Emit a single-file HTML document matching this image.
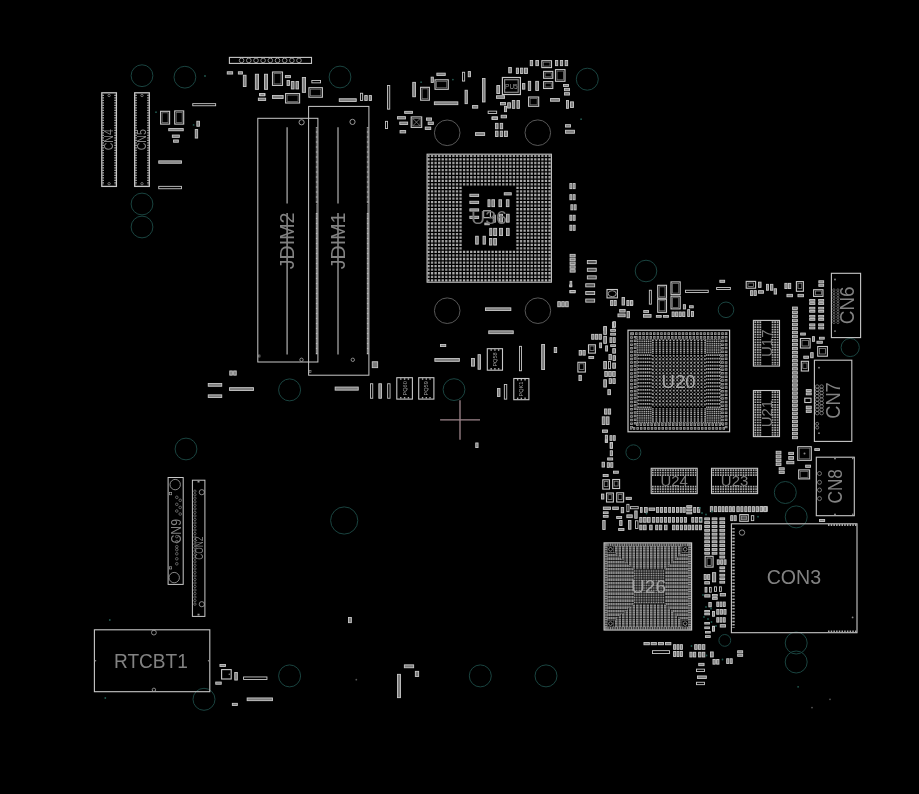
<!DOCTYPE html>
<html><head><meta charset="utf-8"><title>Board</title>
<style>
html,body{margin:0;padding:0;background:#000;overflow:hidden}
svg{display:block;font-family:"Liberation Sans",sans-serif}
text{filter:grayscale(1)}
</style></head><body>
<svg width="919" height="794" viewBox="0 0 919 794">
<rect x="0" y="0" width="919" height="794" fill="#000"/>
<circle cx="142.00" cy="75.70" r="10.90" fill="none" stroke="#1a4440" stroke-width="1"/>
<circle cx="184.90" cy="77.20" r="10.90" fill="none" stroke="#1a4440" stroke-width="1"/>
<circle cx="340.00" cy="77.00" r="10.90" fill="none" stroke="#1a4440" stroke-width="1"/>
<circle cx="587.30" cy="79.20" r="11.00" fill="none" stroke="#1a4440" stroke-width="1"/>
<circle cx="142.00" cy="204.00" r="10.90" fill="none" stroke="#1a4440" stroke-width="1"/>
<circle cx="142.00" cy="227.00" r="10.90" fill="none" stroke="#1a4440" stroke-width="1"/>
<circle cx="289.60" cy="389.90" r="11.00" fill="none" stroke="#1a4440" stroke-width="1"/>
<circle cx="454.00" cy="389.60" r="10.90" fill="none" stroke="#1a4440" stroke-width="1"/>
<circle cx="186.00" cy="449.00" r="10.90" fill="none" stroke="#1a4440" stroke-width="1"/>
<circle cx="344.20" cy="520.50" r="13.60" fill="none" stroke="#1a4440" stroke-width="1"/>
<circle cx="646.00" cy="271.00" r="10.80" fill="none" stroke="#1a4440" stroke-width="1"/>
<circle cx="726.00" cy="309.80" r="7.80" fill="none" stroke="#1a4440" stroke-width="1"/>
<circle cx="850.20" cy="347.50" r="9.10" fill="none" stroke="#1a4440" stroke-width="1"/>
<circle cx="633.40" cy="452.30" r="7.50" fill="none" stroke="#1a4440" stroke-width="1"/>
<circle cx="785.30" cy="492.50" r="11.00" fill="none" stroke="#1a4440" stroke-width="1"/>
<circle cx="796.20" cy="516.90" r="11.00" fill="none" stroke="#1a4440" stroke-width="1"/>
<circle cx="796.20" cy="643.00" r="11.00" fill="none" stroke="#1a4440" stroke-width="1"/>
<circle cx="796.20" cy="662.00" r="11.00" fill="none" stroke="#1a4440" stroke-width="1"/>
<circle cx="724.80" cy="640.40" r="5.90" fill="none" stroke="#1a4440" stroke-width="1"/>
<circle cx="204.00" cy="699.30" r="11.00" fill="none" stroke="#1a4440" stroke-width="1"/>
<circle cx="289.60" cy="675.90" r="11.00" fill="none" stroke="#1a4440" stroke-width="1"/>
<circle cx="480.30" cy="675.90" r="11.00" fill="none" stroke="#1a4440" stroke-width="1"/>
<circle cx="546.00" cy="675.90" r="11.00" fill="none" stroke="#1a4440" stroke-width="1"/>
<circle cx="156.00" cy="112.20" r="0.90" fill="#215a50" stroke="none" stroke-width="1"/>
<circle cx="193.60" cy="124.90" r="0.90" fill="#215a50" stroke="none" stroke-width="1"/>
<circle cx="421.10" cy="82.20" r="0.90" fill="#215a50" stroke="none" stroke-width="1"/>
<circle cx="452.90" cy="79.60" r="0.90" fill="#215a50" stroke="none" stroke-width="1"/>
<circle cx="581.10" cy="119.20" r="0.90" fill="#215a50" stroke="none" stroke-width="1"/>
<circle cx="758.00" cy="516.70" r="0.90" fill="#215a50" stroke="none" stroke-width="1"/>
<circle cx="105.30" cy="698.00" r="0.90" fill="#215a50" stroke="none" stroke-width="1"/>
<circle cx="109.80" cy="620.00" r="0.90" fill="#215a50" stroke="none" stroke-width="1"/>
<circle cx="205.00" cy="76.00" r="0.90" fill="#215a50" stroke="none" stroke-width="1"/>
<circle cx="798.10" cy="686.80" r="0.90" fill="#215a50" stroke="none" stroke-width="1"/>
<circle cx="830.00" cy="699.30" r="0.90" fill="#555" stroke="none" stroke-width="1"/>
<circle cx="812.00" cy="707.60" r="0.90" fill="#555" stroke="none" stroke-width="1"/>
<circle cx="356.30" cy="679.70" r="0.90" fill="#555" stroke="none" stroke-width="1"/>
<circle cx="447.20" cy="132.80" r="12.80" fill="none" stroke="#575757" stroke-width="1"/>
<circle cx="537.80" cy="132.70" r="12.80" fill="none" stroke="#575757" stroke-width="1"/>
<circle cx="447.20" cy="310.70" r="12.80" fill="none" stroke="#575757" stroke-width="1"/>
<circle cx="537.90" cy="310.70" r="12.80" fill="none" stroke="#575757" stroke-width="1"/>
<line x1="440.10" y1="419.80" x2="480.00" y2="419.80" stroke="#9e868c" stroke-width="1.3"/>
<line x1="460.00" y1="400.20" x2="460.00" y2="439.70" stroke="#9e868c" stroke-width="1.3"/>
<rect x="101.80" y="92.80" width="14.60" height="93.60" fill="none" stroke="#c8c8c8" stroke-width="1.3"/>
<line x1="103.10" y1="94.70" x2="103.10" y2="185.00" stroke="#b8b8b8" stroke-width="1.5" stroke-dasharray="1.3 1.2"/>
<line x1="115.10" y1="94.70" x2="115.10" y2="185.00" stroke="#b8b8b8" stroke-width="1.5" stroke-dasharray="1.3 1.2"/>
<circle cx="109.10" cy="95.50" r="1.20" fill="none" stroke="#999" stroke-width="0.7"/>
<circle cx="109.10" cy="183.70" r="1.20" fill="none" stroke="#999" stroke-width="0.7"/>
<text x="108.60" y="139.70" font-size="12.7" fill="#828282" text-anchor="middle" dominant-baseline="central" textLength="21.2" lengthAdjust="spacingAndGlyphs" transform="rotate(-90 108.60 139.70)">CN4</text>
<rect x="134.70" y="92.80" width="14.60" height="93.60" fill="none" stroke="#c8c8c8" stroke-width="1.3"/>
<line x1="136.00" y1="94.70" x2="136.00" y2="185.00" stroke="#b8b8b8" stroke-width="1.5" stroke-dasharray="1.3 1.2"/>
<line x1="148.00" y1="94.70" x2="148.00" y2="185.00" stroke="#b8b8b8" stroke-width="1.5" stroke-dasharray="1.3 1.2"/>
<circle cx="142.00" cy="95.50" r="1.20" fill="none" stroke="#999" stroke-width="0.7"/>
<circle cx="142.00" cy="183.70" r="1.20" fill="none" stroke="#999" stroke-width="0.7"/>
<text x="141.60" y="139.70" font-size="12.7" fill="#828282" text-anchor="middle" dominant-baseline="central" textLength="21.2" lengthAdjust="spacingAndGlyphs" transform="rotate(-90 141.60 139.70)">CN5</text>
<rect x="257.80" y="118.30" width="60.10" height="243.70" fill="none" stroke="#c8c8c8" stroke-width="1"/>
<rect x="308.60" y="106.40" width="60.30" height="268.80" fill="none" stroke="#c8c8c8" stroke-width="1"/>
<circle cx="301.60" cy="122.30" r="2.60" fill="none" stroke="#aaa" stroke-width="0.9"/>
<circle cx="301.50" cy="359.80" r="1.70" fill="none" stroke="#aaa" stroke-width="0.8"/>
<circle cx="352.50" cy="121.90" r="2.60" fill="none" stroke="#aaa" stroke-width="0.9"/>
<circle cx="352.80" cy="359.80" r="1.70" fill="none" stroke="#aaa" stroke-width="0.8"/>
<line x1="287.10" y1="127.20" x2="287.10" y2="203.50" stroke="#a4a4a4" stroke-width="1.3"/>
<line x1="287.10" y1="213.00" x2="287.10" y2="354.50" stroke="#a4a4a4" stroke-width="1.3"/>
<line x1="316.70" y1="127.20" x2="316.70" y2="203.50" stroke="#bcbcbc" stroke-width="1.8" stroke-dasharray="0.9 0.35"/>
<line x1="316.70" y1="213.00" x2="316.70" y2="354.50" stroke="#bcbcbc" stroke-width="1.8" stroke-dasharray="0.9 0.35"/>
<line x1="338.00" y1="127.20" x2="338.00" y2="203.50" stroke="#a4a4a4" stroke-width="1.3"/>
<line x1="338.00" y1="213.00" x2="338.00" y2="354.50" stroke="#a4a4a4" stroke-width="1.3"/>
<line x1="367.70" y1="127.20" x2="367.70" y2="203.50" stroke="#bcbcbc" stroke-width="1.8" stroke-dasharray="0.9 0.35"/>
<line x1="367.70" y1="213.00" x2="367.70" y2="354.50" stroke="#bcbcbc" stroke-width="1.8" stroke-dasharray="0.9 0.35"/>
<line x1="316.70" y1="203.50" x2="316.70" y2="213.00" stroke="#888" stroke-width="0.8"/>
<line x1="367.70" y1="203.50" x2="367.70" y2="213.00" stroke="#888" stroke-width="0.8"/>
<text x="286.70" y="240.90" font-size="21" fill="#828282" text-anchor="middle" dominant-baseline="central" textLength="56.6" lengthAdjust="spacingAndGlyphs" transform="rotate(-90 286.70 240.90)">JDIM2</text>
<text x="337.60" y="240.90" font-size="21" fill="#828282" text-anchor="middle" dominant-baseline="central" textLength="56.6" lengthAdjust="spacingAndGlyphs" transform="rotate(-90 337.60 240.90)">JDIM1</text>
<rect x="258.30" y="355.00" width="1.70" height="2.00" fill="none" stroke="#999" stroke-width="0.6"/>
<rect x="309.20" y="370.50" width="1.80" height="2.00" fill="none" stroke="#999" stroke-width="0.6"/>
<rect x="94.40" y="629.80" width="115.40" height="61.90" fill="none" stroke="#c8c8c8" stroke-width="1.1"/>
<text x="150.90" y="660.50" font-size="19.5" fill="#828282" text-anchor="middle" dominant-baseline="central" textLength="73.9" lengthAdjust="spacingAndGlyphs">RTCBT1</text>
<circle cx="153.90" cy="632.60" r="2.40" fill="none" stroke="#aaa" stroke-width="0.8"/>
<circle cx="153.90" cy="689.80" r="1.70" fill="none" stroke="#aaa" stroke-width="0.8"/>
<circle cx="95.50" cy="660.80" r="0.80" fill="#888" stroke="none" stroke-width="1"/>
<circle cx="208.60" cy="660.80" r="0.80" fill="#888" stroke="none" stroke-width="1"/>
<rect x="731.40" y="523.80" width="125.60" height="108.90" fill="none" stroke="#c8c8c8" stroke-width="1.1"/>
<text x="793.90" y="577.40" font-size="20" fill="#828282" text-anchor="middle" dominant-baseline="central" textLength="54.4" lengthAdjust="spacingAndGlyphs">CON3</text>
<circle cx="742.00" cy="532.60" r="2.70" fill="none" stroke="#aaa" stroke-width="0.8"/>
<line x1="733.50" y1="528.00" x2="733.50" y2="628.00" stroke="#aaa" stroke-width="2.4" stroke-dasharray="1.6 1.6"/>
<line x1="828.00" y1="525.00" x2="856.60" y2="525.00" stroke="#aaa" stroke-width="2.2" stroke-dasharray="1.5 1.2"/>
<line x1="828.00" y1="631.50" x2="856.60" y2="631.50" stroke="#aaa" stroke-width="2.2" stroke-dasharray="1.5 1.2"/>
<circle cx="852.60" cy="617.40" r="0.90" fill="#888" stroke="none" stroke-width="1"/>
<rect x="831.40" y="273.30" width="29.20" height="64.30" fill="none" stroke="#c8c8c8" stroke-width="1.1"/>
<text x="846.80" y="305.30" font-size="20" fill="#828282" text-anchor="middle" dominant-baseline="central" textLength="37.8" lengthAdjust="spacingAndGlyphs" transform="rotate(-90 846.80 305.30)">CN6</text>
<circle cx="833.90" cy="290.00" r="1.20" fill="none" stroke="#8a8a8a" stroke-width="0.6"/>
<circle cx="837.90" cy="290.00" r="1.20" fill="none" stroke="#8a8a8a" stroke-width="0.6"/>
<circle cx="833.90" cy="292.70" r="1.20" fill="none" stroke="#8a8a8a" stroke-width="0.6"/>
<circle cx="837.90" cy="292.70" r="1.20" fill="none" stroke="#8a8a8a" stroke-width="0.6"/>
<circle cx="833.90" cy="295.40" r="1.20" fill="none" stroke="#8a8a8a" stroke-width="0.6"/>
<circle cx="837.90" cy="295.40" r="1.20" fill="none" stroke="#8a8a8a" stroke-width="0.6"/>
<circle cx="833.90" cy="298.10" r="1.20" fill="none" stroke="#8a8a8a" stroke-width="0.6"/>
<circle cx="837.90" cy="298.10" r="1.20" fill="none" stroke="#8a8a8a" stroke-width="0.6"/>
<circle cx="833.90" cy="300.80" r="1.20" fill="none" stroke="#8a8a8a" stroke-width="0.6"/>
<circle cx="837.90" cy="300.80" r="1.20" fill="none" stroke="#8a8a8a" stroke-width="0.6"/>
<circle cx="833.90" cy="303.50" r="1.20" fill="none" stroke="#8a8a8a" stroke-width="0.6"/>
<circle cx="837.90" cy="303.50" r="1.20" fill="none" stroke="#8a8a8a" stroke-width="0.6"/>
<circle cx="833.90" cy="306.20" r="1.20" fill="none" stroke="#8a8a8a" stroke-width="0.6"/>
<circle cx="837.90" cy="306.20" r="1.20" fill="none" stroke="#8a8a8a" stroke-width="0.6"/>
<circle cx="833.90" cy="308.90" r="1.20" fill="none" stroke="#8a8a8a" stroke-width="0.6"/>
<circle cx="837.90" cy="308.90" r="1.20" fill="none" stroke="#8a8a8a" stroke-width="0.6"/>
<circle cx="833.90" cy="311.60" r="1.20" fill="none" stroke="#8a8a8a" stroke-width="0.6"/>
<circle cx="837.90" cy="311.60" r="1.20" fill="none" stroke="#8a8a8a" stroke-width="0.6"/>
<circle cx="833.90" cy="314.30" r="1.20" fill="none" stroke="#8a8a8a" stroke-width="0.6"/>
<circle cx="837.90" cy="314.30" r="1.20" fill="none" stroke="#8a8a8a" stroke-width="0.6"/>
<circle cx="833.90" cy="317.00" r="1.20" fill="none" stroke="#8a8a8a" stroke-width="0.6"/>
<circle cx="837.90" cy="317.00" r="1.20" fill="none" stroke="#8a8a8a" stroke-width="0.6"/>
<circle cx="833.90" cy="319.70" r="1.20" fill="none" stroke="#8a8a8a" stroke-width="0.6"/>
<circle cx="837.90" cy="319.70" r="1.20" fill="none" stroke="#8a8a8a" stroke-width="0.6"/>
<circle cx="833.90" cy="322.40" r="1.20" fill="none" stroke="#8a8a8a" stroke-width="0.6"/>
<circle cx="837.90" cy="322.40" r="1.20" fill="none" stroke="#8a8a8a" stroke-width="0.6"/>
<circle cx="835.00" cy="279.50" r="0.90" fill="#888" stroke="none" stroke-width="1"/>
<circle cx="835.00" cy="331.10" r="0.90" fill="#888" stroke="none" stroke-width="1"/>
<rect x="814.40" y="360.20" width="37.40" height="81.20" fill="none" stroke="#c8c8c8" stroke-width="1.1"/>
<text x="832.90" y="400.50" font-size="19.5" fill="#828282" text-anchor="middle" dominant-baseline="central" textLength="36.5" lengthAdjust="spacingAndGlyphs" transform="rotate(-90 832.90 400.50)">CN7</text>
<circle cx="817.20" cy="386.60" r="1.80" fill="none" stroke="#9a9a9a" stroke-width="0.7"/>
<circle cx="821.60" cy="386.60" r="1.80" fill="none" stroke="#9a9a9a" stroke-width="0.7"/>
<circle cx="821.60" cy="389.80" r="1.80" fill="none" stroke="#9a9a9a" stroke-width="0.7"/>
<circle cx="817.20" cy="389.80" r="1.80" fill="none" stroke="#9a9a9a" stroke-width="0.7"/>
<circle cx="817.20" cy="392.90" r="1.80" fill="none" stroke="#9a9a9a" stroke-width="0.7"/>
<circle cx="821.60" cy="392.90" r="1.80" fill="none" stroke="#9a9a9a" stroke-width="0.7"/>
<circle cx="821.60" cy="396.10" r="1.80" fill="none" stroke="#9a9a9a" stroke-width="0.7"/>
<circle cx="817.20" cy="396.10" r="1.80" fill="none" stroke="#9a9a9a" stroke-width="0.7"/>
<circle cx="817.20" cy="399.60" r="1.80" fill="none" stroke="#9a9a9a" stroke-width="0.7"/>
<circle cx="821.60" cy="399.60" r="1.80" fill="none" stroke="#9a9a9a" stroke-width="0.7"/>
<circle cx="821.60" cy="403.00" r="1.80" fill="none" stroke="#9a9a9a" stroke-width="0.7"/>
<circle cx="817.20" cy="403.00" r="1.80" fill="none" stroke="#9a9a9a" stroke-width="0.7"/>
<circle cx="817.20" cy="406.40" r="1.80" fill="none" stroke="#9a9a9a" stroke-width="0.7"/>
<circle cx="821.60" cy="406.40" r="1.80" fill="none" stroke="#9a9a9a" stroke-width="0.7"/>
<circle cx="821.60" cy="409.70" r="1.80" fill="none" stroke="#9a9a9a" stroke-width="0.7"/>
<circle cx="817.20" cy="409.70" r="1.80" fill="none" stroke="#9a9a9a" stroke-width="0.7"/>
<circle cx="817.20" cy="413.10" r="1.80" fill="none" stroke="#9a9a9a" stroke-width="0.7"/>
<circle cx="821.60" cy="413.10" r="1.80" fill="none" stroke="#9a9a9a" stroke-width="0.7"/>
<circle cx="817.20" cy="423.80" r="1.50" fill="none" stroke="#9a9a9a" stroke-width="0.7"/>
<circle cx="817.20" cy="427.60" r="1.50" fill="none" stroke="#9a9a9a" stroke-width="0.7"/>
<circle cx="819.00" cy="367.70" r="0.90" fill="#888" stroke="none" stroke-width="1"/>
<circle cx="819.00" cy="433.20" r="0.90" fill="#888" stroke="none" stroke-width="1"/>
<rect x="816.30" y="457.20" width="38.00" height="58.50" fill="none" stroke="#c8c8c8" stroke-width="1.1"/>
<text x="835.40" y="486.30" font-size="20.4" fill="#828282" text-anchor="middle" dominant-baseline="central" textLength="34.4" lengthAdjust="spacingAndGlyphs" transform="rotate(-90 835.40 486.30)">CN8</text>
<circle cx="819.50" cy="473.50" r="2.00" fill="none" stroke="#9a9a9a" stroke-width="0.7"/>
<circle cx="819.50" cy="482.30" r="2.00" fill="none" stroke="#9a9a9a" stroke-width="0.7"/>
<circle cx="819.50" cy="490.00" r="2.00" fill="none" stroke="#9a9a9a" stroke-width="0.7"/>
<circle cx="819.50" cy="498.60" r="2.00" fill="none" stroke="#9a9a9a" stroke-width="0.7"/>
<circle cx="835.00" cy="458.60" r="0.90" fill="#999" stroke="none" stroke-width="1"/>
<circle cx="835.00" cy="514.30" r="0.90" fill="#999" stroke="none" stroke-width="1"/>
<circle cx="852.80" cy="458.60" r="0.80" fill="#999" stroke="none" stroke-width="1"/>
<circle cx="852.80" cy="514.30" r="0.80" fill="#999" stroke="none" stroke-width="1"/>
<rect x="168.10" y="477.50" width="15.10" height="106.90" fill="none" stroke="#c8c8c8" stroke-width="1"/>
<circle cx="175.20" cy="484.60" r="5.20" fill="none" stroke="#aaa" stroke-width="0.8"/>
<circle cx="174.20" cy="577.60" r="5.20" fill="none" stroke="#aaa" stroke-width="0.8"/>
<rect x="169.50" y="492.60" width="2.20" height="2.20" fill="none" stroke="#aaa" stroke-width="0.6"/>
<rect x="169.50" y="566.80" width="2.20" height="2.20" fill="none" stroke="#aaa" stroke-width="0.6"/>
<circle cx="176.80" cy="497.30" r="1.30" fill="none" stroke="#999" stroke-width="0.6"/>
<circle cx="180.20" cy="500.30" r="1.30" fill="none" stroke="#999" stroke-width="0.6"/>
<circle cx="176.80" cy="504.30" r="1.30" fill="none" stroke="#999" stroke-width="0.6"/>
<circle cx="180.20" cy="507.40" r="1.30" fill="none" stroke="#999" stroke-width="0.6"/>
<circle cx="176.80" cy="511.00" r="1.30" fill="none" stroke="#999" stroke-width="0.6"/>
<circle cx="180.20" cy="514.00" r="1.30" fill="none" stroke="#999" stroke-width="0.6"/>
<circle cx="176.80" cy="536.60" r="1.30" fill="none" stroke="#999" stroke-width="0.6"/>
<circle cx="176.80" cy="541.70" r="1.30" fill="none" stroke="#999" stroke-width="0.6"/>
<circle cx="176.80" cy="546.70" r="1.30" fill="none" stroke="#999" stroke-width="0.6"/>
<circle cx="176.80" cy="549.70" r="1.30" fill="none" stroke="#999" stroke-width="0.6"/>
<circle cx="176.80" cy="553.80" r="1.30" fill="none" stroke="#999" stroke-width="0.6"/>
<circle cx="176.80" cy="558.80" r="1.30" fill="none" stroke="#999" stroke-width="0.6"/>
<circle cx="176.80" cy="563.80" r="1.30" fill="none" stroke="#999" stroke-width="0.6"/>
<text x="175.80" y="531.30" font-size="14" fill="#828282" text-anchor="middle" dominant-baseline="central" textLength="24.6" lengthAdjust="spacingAndGlyphs" transform="rotate(-90 175.80 531.30)">CN9</text>
<rect x="192.40" y="480.20" width="12.50" height="136.20" fill="none" stroke="#c8c8c8" stroke-width="1"/>
<circle cx="201.80" cy="492.20" r="2.60" fill="none" stroke="#aaa" stroke-width="0.8"/>
<circle cx="201.80" cy="604.20" r="2.60" fill="none" stroke="#aaa" stroke-width="0.8"/>
<circle cx="194.90" cy="491.20" r="1.20" fill="none" stroke="#999" stroke-width="0.6"/>
<circle cx="194.90" cy="494.73" r="1.20" fill="none" stroke="#999" stroke-width="0.6"/>
<circle cx="194.90" cy="498.26" r="1.20" fill="none" stroke="#999" stroke-width="0.6"/>
<circle cx="194.90" cy="501.79" r="1.20" fill="none" stroke="#999" stroke-width="0.6"/>
<circle cx="194.90" cy="505.32" r="1.20" fill="none" stroke="#999" stroke-width="0.6"/>
<circle cx="194.90" cy="508.85" r="1.20" fill="none" stroke="#999" stroke-width="0.6"/>
<circle cx="194.90" cy="512.38" r="1.20" fill="none" stroke="#999" stroke-width="0.6"/>
<circle cx="194.90" cy="515.91" r="1.20" fill="none" stroke="#999" stroke-width="0.6"/>
<circle cx="194.90" cy="519.44" r="1.20" fill="none" stroke="#999" stroke-width="0.6"/>
<circle cx="194.90" cy="522.97" r="1.20" fill="none" stroke="#999" stroke-width="0.6"/>
<circle cx="194.90" cy="526.50" r="1.20" fill="none" stroke="#999" stroke-width="0.6"/>
<circle cx="194.90" cy="530.03" r="1.20" fill="none" stroke="#999" stroke-width="0.6"/>
<circle cx="194.90" cy="533.56" r="1.20" fill="none" stroke="#999" stroke-width="0.6"/>
<circle cx="194.90" cy="537.09" r="1.20" fill="none" stroke="#999" stroke-width="0.6"/>
<circle cx="194.90" cy="540.62" r="1.20" fill="none" stroke="#999" stroke-width="0.6"/>
<circle cx="194.90" cy="544.15" r="1.20" fill="none" stroke="#999" stroke-width="0.6"/>
<circle cx="194.90" cy="547.68" r="1.20" fill="none" stroke="#999" stroke-width="0.6"/>
<circle cx="194.90" cy="551.21" r="1.20" fill="none" stroke="#999" stroke-width="0.6"/>
<circle cx="194.90" cy="554.74" r="1.20" fill="none" stroke="#999" stroke-width="0.6"/>
<circle cx="194.90" cy="558.27" r="1.20" fill="none" stroke="#999" stroke-width="0.6"/>
<circle cx="194.90" cy="561.80" r="1.20" fill="none" stroke="#999" stroke-width="0.6"/>
<circle cx="194.90" cy="565.33" r="1.20" fill="none" stroke="#999" stroke-width="0.6"/>
<circle cx="194.90" cy="568.86" r="1.20" fill="none" stroke="#999" stroke-width="0.6"/>
<circle cx="194.90" cy="572.39" r="1.20" fill="none" stroke="#999" stroke-width="0.6"/>
<circle cx="194.90" cy="575.92" r="1.20" fill="none" stroke="#999" stroke-width="0.6"/>
<circle cx="194.90" cy="579.45" r="1.20" fill="none" stroke="#999" stroke-width="0.6"/>
<circle cx="194.90" cy="582.98" r="1.20" fill="none" stroke="#999" stroke-width="0.6"/>
<circle cx="194.90" cy="586.51" r="1.20" fill="none" stroke="#999" stroke-width="0.6"/>
<circle cx="194.90" cy="590.04" r="1.20" fill="none" stroke="#999" stroke-width="0.6"/>
<circle cx="194.90" cy="593.57" r="1.20" fill="none" stroke="#999" stroke-width="0.6"/>
<circle cx="194.90" cy="597.10" r="1.20" fill="none" stroke="#999" stroke-width="0.6"/>
<circle cx="194.90" cy="600.63" r="1.20" fill="none" stroke="#999" stroke-width="0.6"/>
<circle cx="194.90" cy="604.16" r="1.20" fill="none" stroke="#999" stroke-width="0.6"/>
<text x="198.60" y="548.20" font-size="10.5" fill="#828282" text-anchor="middle" dominant-baseline="central" textLength="23.2" lengthAdjust="spacingAndGlyphs" transform="rotate(-90 198.60 548.20)">CON2</text>
<rect x="197.80" y="481.00" width="1.60" height="1.50" fill="none" stroke="#999" stroke-width="0.5"/>
<rect x="197.80" y="614.00" width="1.60" height="1.50" fill="none" stroke="#999" stroke-width="0.5"/>
<rect x="427.10" y="154.20" width="124.30" height="128.00" fill="none" stroke="#c8c8c8" stroke-width="1.1"/>
<line x1="427.35" y1="155.90" x2="550.69" y2="155.90" stroke="#9c9c9c" stroke-width="2.3" stroke-dasharray="2.3 1.260"/>
<line x1="427.35" y1="159.46" x2="550.69" y2="159.46" stroke="#acacac" stroke-width="2.3" stroke-dasharray="2.3 1.260"/>
<line x1="427.35" y1="163.01" x2="550.69" y2="163.01" stroke="#9c9c9c" stroke-width="2.3" stroke-dasharray="2.3 1.260"/>
<line x1="427.35" y1="166.57" x2="550.69" y2="166.57" stroke="#acacac" stroke-width="2.3" stroke-dasharray="2.3 1.260"/>
<line x1="427.35" y1="170.12" x2="550.69" y2="170.12" stroke="#9c9c9c" stroke-width="2.3" stroke-dasharray="2.3 1.260"/>
<line x1="427.35" y1="173.68" x2="550.69" y2="173.68" stroke="#acacac" stroke-width="2.3" stroke-dasharray="2.3 1.260"/>
<line x1="427.35" y1="177.24" x2="550.69" y2="177.24" stroke="#9c9c9c" stroke-width="2.3" stroke-dasharray="2.3 1.260"/>
<line x1="427.35" y1="180.79" x2="550.69" y2="180.79" stroke="#acacac" stroke-width="2.3" stroke-dasharray="2.3 1.260"/>
<line x1="427.35" y1="184.35" x2="550.69" y2="184.35" stroke="#9c9c9c" stroke-width="2.3" stroke-dasharray="2.3 1.260"/>
<line x1="427.35" y1="187.90" x2="461.69" y2="187.90" stroke="#acacac" stroke-width="2.3" stroke-dasharray="2.3 1.260"/>
<line x1="516.35" y1="187.90" x2="550.69" y2="187.90" stroke="#acacac" stroke-width="2.3" stroke-dasharray="2.3 1.260"/>
<line x1="427.35" y1="191.46" x2="461.69" y2="191.46" stroke="#9c9c9c" stroke-width="2.3" stroke-dasharray="2.3 1.260"/>
<line x1="516.35" y1="191.46" x2="550.69" y2="191.46" stroke="#9c9c9c" stroke-width="2.3" stroke-dasharray="2.3 1.260"/>
<line x1="427.35" y1="195.02" x2="461.69" y2="195.02" stroke="#acacac" stroke-width="2.3" stroke-dasharray="2.3 1.260"/>
<line x1="516.35" y1="195.02" x2="550.69" y2="195.02" stroke="#acacac" stroke-width="2.3" stroke-dasharray="2.3 1.260"/>
<line x1="427.35" y1="198.57" x2="461.69" y2="198.57" stroke="#9c9c9c" stroke-width="2.3" stroke-dasharray="2.3 1.260"/>
<line x1="516.35" y1="198.57" x2="550.69" y2="198.57" stroke="#9c9c9c" stroke-width="2.3" stroke-dasharray="2.3 1.260"/>
<line x1="427.35" y1="202.13" x2="461.69" y2="202.13" stroke="#acacac" stroke-width="2.3" stroke-dasharray="2.3 1.260"/>
<line x1="516.35" y1="202.13" x2="550.69" y2="202.13" stroke="#acacac" stroke-width="2.3" stroke-dasharray="2.3 1.260"/>
<line x1="427.35" y1="205.68" x2="461.69" y2="205.68" stroke="#9c9c9c" stroke-width="2.3" stroke-dasharray="2.3 1.260"/>
<line x1="516.35" y1="205.68" x2="550.69" y2="205.68" stroke="#9c9c9c" stroke-width="2.3" stroke-dasharray="2.3 1.260"/>
<line x1="427.35" y1="209.24" x2="461.69" y2="209.24" stroke="#acacac" stroke-width="2.3" stroke-dasharray="2.3 1.260"/>
<line x1="516.35" y1="209.24" x2="550.69" y2="209.24" stroke="#acacac" stroke-width="2.3" stroke-dasharray="2.3 1.260"/>
<line x1="427.35" y1="212.80" x2="461.69" y2="212.80" stroke="#9c9c9c" stroke-width="2.3" stroke-dasharray="2.3 1.260"/>
<line x1="516.35" y1="212.80" x2="550.69" y2="212.80" stroke="#9c9c9c" stroke-width="2.3" stroke-dasharray="2.3 1.260"/>
<line x1="427.35" y1="216.35" x2="461.69" y2="216.35" stroke="#acacac" stroke-width="2.3" stroke-dasharray="2.3 1.260"/>
<line x1="516.35" y1="216.35" x2="550.69" y2="216.35" stroke="#acacac" stroke-width="2.3" stroke-dasharray="2.3 1.260"/>
<line x1="427.35" y1="219.91" x2="461.69" y2="219.91" stroke="#9c9c9c" stroke-width="2.3" stroke-dasharray="2.3 1.260"/>
<line x1="516.35" y1="219.91" x2="550.69" y2="219.91" stroke="#9c9c9c" stroke-width="2.3" stroke-dasharray="2.3 1.260"/>
<line x1="427.35" y1="223.46" x2="461.69" y2="223.46" stroke="#acacac" stroke-width="2.3" stroke-dasharray="2.3 1.260"/>
<line x1="516.35" y1="223.46" x2="550.69" y2="223.46" stroke="#acacac" stroke-width="2.3" stroke-dasharray="2.3 1.260"/>
<line x1="427.35" y1="227.02" x2="461.69" y2="227.02" stroke="#9c9c9c" stroke-width="2.3" stroke-dasharray="2.3 1.260"/>
<line x1="516.35" y1="227.02" x2="550.69" y2="227.02" stroke="#9c9c9c" stroke-width="2.3" stroke-dasharray="2.3 1.260"/>
<line x1="427.35" y1="230.58" x2="461.69" y2="230.58" stroke="#acacac" stroke-width="2.3" stroke-dasharray="2.3 1.260"/>
<line x1="516.35" y1="230.58" x2="550.69" y2="230.58" stroke="#acacac" stroke-width="2.3" stroke-dasharray="2.3 1.260"/>
<line x1="427.35" y1="234.13" x2="461.69" y2="234.13" stroke="#9c9c9c" stroke-width="2.3" stroke-dasharray="2.3 1.260"/>
<line x1="516.35" y1="234.13" x2="550.69" y2="234.13" stroke="#9c9c9c" stroke-width="2.3" stroke-dasharray="2.3 1.260"/>
<line x1="427.35" y1="237.69" x2="461.69" y2="237.69" stroke="#acacac" stroke-width="2.3" stroke-dasharray="2.3 1.260"/>
<line x1="516.35" y1="237.69" x2="550.69" y2="237.69" stroke="#acacac" stroke-width="2.3" stroke-dasharray="2.3 1.260"/>
<line x1="427.35" y1="241.24" x2="461.69" y2="241.24" stroke="#9c9c9c" stroke-width="2.3" stroke-dasharray="2.3 1.260"/>
<line x1="516.35" y1="241.24" x2="550.69" y2="241.24" stroke="#9c9c9c" stroke-width="2.3" stroke-dasharray="2.3 1.260"/>
<line x1="427.35" y1="244.80" x2="461.69" y2="244.80" stroke="#acacac" stroke-width="2.3" stroke-dasharray="2.3 1.260"/>
<line x1="516.35" y1="244.80" x2="550.69" y2="244.80" stroke="#acacac" stroke-width="2.3" stroke-dasharray="2.3 1.260"/>
<line x1="427.35" y1="248.36" x2="461.69" y2="248.36" stroke="#9c9c9c" stroke-width="2.3" stroke-dasharray="2.3 1.260"/>
<line x1="516.35" y1="248.36" x2="550.69" y2="248.36" stroke="#9c9c9c" stroke-width="2.3" stroke-dasharray="2.3 1.260"/>
<line x1="427.35" y1="251.91" x2="550.69" y2="251.91" stroke="#acacac" stroke-width="2.3" stroke-dasharray="2.3 1.260"/>
<line x1="427.35" y1="255.47" x2="550.69" y2="255.47" stroke="#9c9c9c" stroke-width="2.3" stroke-dasharray="2.3 1.260"/>
<line x1="427.35" y1="259.02" x2="550.69" y2="259.02" stroke="#acacac" stroke-width="2.3" stroke-dasharray="2.3 1.260"/>
<line x1="427.35" y1="262.58" x2="550.69" y2="262.58" stroke="#9c9c9c" stroke-width="2.3" stroke-dasharray="2.3 1.260"/>
<line x1="427.35" y1="266.14" x2="550.69" y2="266.14" stroke="#acacac" stroke-width="2.3" stroke-dasharray="2.3 1.260"/>
<line x1="427.35" y1="269.69" x2="550.69" y2="269.69" stroke="#9c9c9c" stroke-width="2.3" stroke-dasharray="2.3 1.260"/>
<line x1="427.35" y1="273.25" x2="550.69" y2="273.25" stroke="#acacac" stroke-width="2.3" stroke-dasharray="2.3 1.260"/>
<line x1="427.35" y1="276.80" x2="550.69" y2="276.80" stroke="#9c9c9c" stroke-width="2.3" stroke-dasharray="2.3 1.260"/>
<line x1="427.35" y1="280.36" x2="550.69" y2="280.36" stroke="#acacac" stroke-width="2.3" stroke-dasharray="2.3 1.260"/>
<rect x="469.85" y="194.25" width="8.80" height="2.20" fill="#7c7c7c" stroke="#c8c8c8" stroke-width="0.9"/>
<rect x="469.85" y="201.25" width="8.80" height="2.20" fill="#7c7c7c" stroke="#c8c8c8" stroke-width="0.9"/>
<rect x="469.85" y="208.85" width="8.80" height="2.20" fill="#7c7c7c" stroke="#c8c8c8" stroke-width="0.9"/>
<rect x="469.85" y="216.25" width="8.80" height="2.20" fill="#7c7c7c" stroke="#c8c8c8" stroke-width="0.9"/>
<rect x="504.25" y="192.75" width="7.00" height="2.20" fill="#7c7c7c" stroke="#c8c8c8" stroke-width="0.9"/>
<rect x="487.95" y="199.75" width="2.10" height="6.90" fill="#7c7c7c" stroke="#c8c8c8" stroke-width="0.9"/>
<rect x="491.85" y="199.75" width="2.70" height="6.90" fill="#7c7c7c" stroke="#c8c8c8" stroke-width="0.9"/>
<rect x="498.95" y="199.75" width="2.60" height="6.90" fill="#7c7c7c" stroke="#c8c8c8" stroke-width="0.9"/>
<rect x="506.35" y="199.75" width="2.60" height="6.90" fill="#7c7c7c" stroke="#c8c8c8" stroke-width="0.9"/>
<rect x="483.60" y="210.80" width="6.80" height="6.90" fill="none" stroke="#c8c8c8" stroke-width="1.1"/>
<rect x="493.25" y="215.15" width="2.10" height="7.00" fill="#7c7c7c" stroke="#c8c8c8" stroke-width="0.9"/>
<rect x="499.45" y="214.25" width="3.10" height="7.90" fill="#7c7c7c" stroke="#c8c8c8" stroke-width="0.9"/>
<rect x="506.45" y="214.25" width="2.70" height="7.90" fill="#7c7c7c" stroke="#c8c8c8" stroke-width="0.9"/>
<rect x="484.85" y="223.05" width="4.40" height="1.70" fill="#7c7c7c" stroke="#c8c8c8" stroke-width="0.9"/>
<rect x="489.75" y="228.35" width="2.10" height="7.20" fill="#7c7c7c" stroke="#c8c8c8" stroke-width="0.9"/>
<rect x="493.65" y="228.35" width="3.00" height="7.20" fill="#7c7c7c" stroke="#c8c8c8" stroke-width="0.9"/>
<rect x="499.45" y="228.35" width="3.10" height="7.20" fill="#7c7c7c" stroke="#c8c8c8" stroke-width="0.9"/>
<rect x="506.45" y="228.35" width="2.70" height="7.20" fill="#7c7c7c" stroke="#c8c8c8" stroke-width="0.9"/>
<rect x="475.65" y="236.25" width="2.60" height="7.90" fill="#7c7c7c" stroke="#c8c8c8" stroke-width="0.9"/>
<rect x="483.05" y="236.25" width="2.30" height="7.90" fill="#7c7c7c" stroke="#c8c8c8" stroke-width="0.9"/>
<rect x="489.55" y="238.45" width="2.30" height="6.60" fill="#7c7c7c" stroke="#c8c8c8" stroke-width="0.9"/>
<rect x="493.65" y="238.45" width="2.90" height="6.60" fill="#7c7c7c" stroke="#c8c8c8" stroke-width="0.9"/>
<text x="489.00" y="217.50" font-size="19" fill="#777" text-anchor="middle" dominant-baseline="central" textLength="36.0" lengthAdjust="spacingAndGlyphs">U36</text>
<g>
<line x1="636.70" y1="339.82" x2="720.90" y2="339.82" stroke="#a6a6a6" stroke-width="1.25" stroke-dasharray="1.25 0.590"/>
<line x1="636.70" y1="341.66" x2="720.90" y2="341.66" stroke="#a6a6a6" stroke-width="1.25" stroke-dasharray="1.25 0.590"/>
<line x1="636.70" y1="343.50" x2="720.90" y2="343.50" stroke="#a6a6a6" stroke-width="1.25" stroke-dasharray="1.25 0.590"/>
<line x1="636.70" y1="345.34" x2="720.90" y2="345.34" stroke="#a6a6a6" stroke-width="1.25" stroke-dasharray="1.25 0.590"/>
<line x1="636.70" y1="347.18" x2="720.90" y2="347.18" stroke="#a6a6a6" stroke-width="1.25" stroke-dasharray="1.25 0.590"/>
<line x1="636.70" y1="349.02" x2="720.90" y2="349.02" stroke="#a6a6a6" stroke-width="1.25" stroke-dasharray="1.25 0.590"/>
<line x1="636.70" y1="350.86" x2="720.90" y2="350.86" stroke="#a6a6a6" stroke-width="1.25" stroke-dasharray="1.25 0.590"/>
<line x1="636.70" y1="352.70" x2="720.90" y2="352.70" stroke="#a6a6a6" stroke-width="1.25" stroke-dasharray="1.25 0.590"/>
<line x1="636.70" y1="354.54" x2="720.90" y2="354.54" stroke="#a6a6a6" stroke-width="1.25" stroke-dasharray="1.25 0.590"/>
<line x1="636.70" y1="356.38" x2="720.90" y2="356.38" stroke="#a6a6a6" stroke-width="1.25" stroke-dasharray="1.25 0.590"/>
<line x1="636.70" y1="358.22" x2="720.90" y2="358.22" stroke="#a6a6a6" stroke-width="1.25" stroke-dasharray="1.25 0.590"/>
<line x1="636.70" y1="360.06" x2="720.90" y2="360.06" stroke="#a6a6a6" stroke-width="1.25" stroke-dasharray="1.25 0.590"/>
<line x1="636.70" y1="361.90" x2="720.90" y2="361.90" stroke="#a6a6a6" stroke-width="1.25" stroke-dasharray="1.25 0.590"/>
<line x1="636.70" y1="363.74" x2="720.90" y2="363.74" stroke="#a6a6a6" stroke-width="1.25" stroke-dasharray="1.25 0.590"/>
<line x1="636.70" y1="365.58" x2="720.90" y2="365.58" stroke="#a6a6a6" stroke-width="1.25" stroke-dasharray="1.25 0.590"/>
<line x1="636.70" y1="367.42" x2="720.90" y2="367.42" stroke="#a6a6a6" stroke-width="1.25" stroke-dasharray="1.25 0.590"/>
<line x1="636.70" y1="369.26" x2="720.90" y2="369.26" stroke="#a6a6a6" stroke-width="1.25" stroke-dasharray="1.25 0.590"/>
<line x1="636.70" y1="371.10" x2="720.90" y2="371.10" stroke="#a6a6a6" stroke-width="1.25" stroke-dasharray="1.25 0.590"/>
<line x1="636.70" y1="372.94" x2="720.90" y2="372.94" stroke="#a6a6a6" stroke-width="1.25" stroke-dasharray="1.25 0.590"/>
<line x1="636.70" y1="374.78" x2="720.90" y2="374.78" stroke="#a6a6a6" stroke-width="1.25" stroke-dasharray="1.25 0.590"/>
<line x1="636.70" y1="376.62" x2="720.90" y2="376.62" stroke="#a6a6a6" stroke-width="1.25" stroke-dasharray="1.25 0.590"/>
<line x1="636.70" y1="378.46" x2="720.90" y2="378.46" stroke="#a6a6a6" stroke-width="1.25" stroke-dasharray="1.25 0.590"/>
<line x1="636.70" y1="380.30" x2="720.90" y2="380.30" stroke="#a6a6a6" stroke-width="1.25" stroke-dasharray="1.25 0.590"/>
<line x1="636.70" y1="382.14" x2="720.90" y2="382.14" stroke="#a6a6a6" stroke-width="1.25" stroke-dasharray="1.25 0.590"/>
<line x1="636.70" y1="383.98" x2="720.90" y2="383.98" stroke="#a6a6a6" stroke-width="1.25" stroke-dasharray="1.25 0.590"/>
<line x1="636.70" y1="385.82" x2="720.90" y2="385.82" stroke="#a6a6a6" stroke-width="1.25" stroke-dasharray="1.25 0.590"/>
<line x1="636.70" y1="387.66" x2="720.90" y2="387.66" stroke="#a6a6a6" stroke-width="1.25" stroke-dasharray="1.25 0.590"/>
<line x1="636.70" y1="389.50" x2="720.90" y2="389.50" stroke="#a6a6a6" stroke-width="1.25" stroke-dasharray="1.25 0.590"/>
<line x1="636.70" y1="391.34" x2="720.90" y2="391.34" stroke="#a6a6a6" stroke-width="1.25" stroke-dasharray="1.25 0.590"/>
<line x1="636.70" y1="393.18" x2="720.90" y2="393.18" stroke="#a6a6a6" stroke-width="1.25" stroke-dasharray="1.25 0.590"/>
<line x1="636.70" y1="395.02" x2="720.90" y2="395.02" stroke="#a6a6a6" stroke-width="1.25" stroke-dasharray="1.25 0.590"/>
<line x1="636.70" y1="396.86" x2="720.90" y2="396.86" stroke="#a6a6a6" stroke-width="1.25" stroke-dasharray="1.25 0.590"/>
<line x1="636.70" y1="398.70" x2="720.90" y2="398.70" stroke="#a6a6a6" stroke-width="1.25" stroke-dasharray="1.25 0.590"/>
<line x1="636.70" y1="400.54" x2="720.90" y2="400.54" stroke="#a6a6a6" stroke-width="1.25" stroke-dasharray="1.25 0.590"/>
<line x1="636.70" y1="402.38" x2="720.90" y2="402.38" stroke="#a6a6a6" stroke-width="1.25" stroke-dasharray="1.25 0.590"/>
<line x1="636.70" y1="404.22" x2="720.90" y2="404.22" stroke="#a6a6a6" stroke-width="1.25" stroke-dasharray="1.25 0.590"/>
<line x1="636.70" y1="406.06" x2="720.90" y2="406.06" stroke="#a6a6a6" stroke-width="1.25" stroke-dasharray="1.25 0.590"/>
<line x1="636.70" y1="407.90" x2="720.90" y2="407.90" stroke="#a6a6a6" stroke-width="1.25" stroke-dasharray="1.25 0.590"/>
<line x1="636.70" y1="409.74" x2="720.90" y2="409.74" stroke="#a6a6a6" stroke-width="1.25" stroke-dasharray="1.25 0.590"/>
<line x1="636.70" y1="411.58" x2="720.90" y2="411.58" stroke="#a6a6a6" stroke-width="1.25" stroke-dasharray="1.25 0.590"/>
<line x1="636.70" y1="413.42" x2="720.90" y2="413.42" stroke="#a6a6a6" stroke-width="1.25" stroke-dasharray="1.25 0.590"/>
<line x1="636.70" y1="415.26" x2="720.90" y2="415.26" stroke="#a6a6a6" stroke-width="1.25" stroke-dasharray="1.25 0.590"/>
<line x1="636.70" y1="417.10" x2="720.90" y2="417.10" stroke="#a6a6a6" stroke-width="1.25" stroke-dasharray="1.25 0.590"/>
<line x1="636.70" y1="418.94" x2="720.90" y2="418.94" stroke="#a6a6a6" stroke-width="1.25" stroke-dasharray="1.25 0.590"/>
<line x1="636.70" y1="420.78" x2="720.90" y2="420.78" stroke="#a6a6a6" stroke-width="1.25" stroke-dasharray="1.25 0.590"/>
<line x1="636.70" y1="422.62" x2="720.90" y2="422.62" stroke="#a6a6a6" stroke-width="1.25" stroke-dasharray="1.25 0.590"/>
<rect x="631.50" y="333.70" width="94.60" height="94.60" fill="none" stroke="#9a9a9a" stroke-width="2.7" stroke-dasharray="2.5 1.09"/>
<rect x="631.50" y="333.70" width="94.60" height="94.60" fill="none" stroke="#333" stroke-width="0.9" stroke-dasharray="0.9 2.69" stroke-dashoffset="-0.8"/>
<rect x="635.15" y="337.35" width="87.30" height="87.30" fill="none" stroke="#9a9a9a" stroke-width="2.7" stroke-dasharray="2.5 1.09"/>
<rect x="635.15" y="337.35" width="87.30" height="87.30" fill="none" stroke="#333" stroke-width="0.9" stroke-dasharray="0.9 2.69" stroke-dashoffset="-0.8"/>
<rect x="651.90" y="339.80" width="53.80" height="82.40" fill="#000" stroke="none" stroke-width="1"/>
<rect x="637.60" y="354.10" width="82.40" height="53.80" fill="#000" stroke="none" stroke-width="1"/>
<line x1="652.90" y1="339.80" x2="652.90" y2="353.70" stroke="#a4a4a4" stroke-width="1.8" stroke-dasharray="1.3 0.54"/>
<line x1="652.90" y1="408.30" x2="652.90" y2="422.20" stroke="#a4a4a4" stroke-width="1.8" stroke-dasharray="1.3 0.54"/>
<line x1="656.38" y1="339.80" x2="656.38" y2="353.70" stroke="#a4a4a4" stroke-width="1.8" stroke-dasharray="1.3 0.54"/>
<line x1="656.38" y1="408.30" x2="656.38" y2="422.20" stroke="#a4a4a4" stroke-width="1.8" stroke-dasharray="1.3 0.54"/>
<line x1="659.86" y1="339.80" x2="659.86" y2="353.70" stroke="#a4a4a4" stroke-width="1.8" stroke-dasharray="1.3 0.54"/>
<line x1="659.86" y1="408.30" x2="659.86" y2="422.20" stroke="#a4a4a4" stroke-width="1.8" stroke-dasharray="1.3 0.54"/>
<line x1="663.34" y1="339.80" x2="663.34" y2="353.70" stroke="#a4a4a4" stroke-width="1.8" stroke-dasharray="1.3 0.54"/>
<line x1="663.34" y1="408.30" x2="663.34" y2="422.20" stroke="#a4a4a4" stroke-width="1.8" stroke-dasharray="1.3 0.54"/>
<line x1="666.82" y1="339.80" x2="666.82" y2="353.70" stroke="#a4a4a4" stroke-width="1.8" stroke-dasharray="1.3 0.54"/>
<line x1="666.82" y1="408.30" x2="666.82" y2="422.20" stroke="#a4a4a4" stroke-width="1.8" stroke-dasharray="1.3 0.54"/>
<line x1="670.30" y1="339.80" x2="670.30" y2="353.70" stroke="#a4a4a4" stroke-width="1.8" stroke-dasharray="1.3 0.54"/>
<line x1="670.30" y1="408.30" x2="670.30" y2="422.20" stroke="#a4a4a4" stroke-width="1.8" stroke-dasharray="1.3 0.54"/>
<line x1="673.78" y1="339.80" x2="673.78" y2="353.70" stroke="#a4a4a4" stroke-width="1.8" stroke-dasharray="1.3 0.54"/>
<line x1="673.78" y1="408.30" x2="673.78" y2="422.20" stroke="#a4a4a4" stroke-width="1.8" stroke-dasharray="1.3 0.54"/>
<line x1="677.26" y1="339.80" x2="677.26" y2="353.70" stroke="#a4a4a4" stroke-width="1.8" stroke-dasharray="1.3 0.54"/>
<line x1="677.26" y1="408.30" x2="677.26" y2="422.20" stroke="#a4a4a4" stroke-width="1.8" stroke-dasharray="1.3 0.54"/>
<line x1="680.74" y1="339.80" x2="680.74" y2="353.70" stroke="#a4a4a4" stroke-width="1.8" stroke-dasharray="1.3 0.54"/>
<line x1="680.74" y1="408.30" x2="680.74" y2="422.20" stroke="#a4a4a4" stroke-width="1.8" stroke-dasharray="1.3 0.54"/>
<line x1="684.22" y1="339.80" x2="684.22" y2="353.70" stroke="#a4a4a4" stroke-width="1.8" stroke-dasharray="1.3 0.54"/>
<line x1="684.22" y1="408.30" x2="684.22" y2="422.20" stroke="#a4a4a4" stroke-width="1.8" stroke-dasharray="1.3 0.54"/>
<line x1="687.70" y1="339.80" x2="687.70" y2="353.70" stroke="#a4a4a4" stroke-width="1.8" stroke-dasharray="1.3 0.54"/>
<line x1="687.70" y1="408.30" x2="687.70" y2="422.20" stroke="#a4a4a4" stroke-width="1.8" stroke-dasharray="1.3 0.54"/>
<line x1="691.18" y1="339.80" x2="691.18" y2="353.70" stroke="#a4a4a4" stroke-width="1.8" stroke-dasharray="1.3 0.54"/>
<line x1="691.18" y1="408.30" x2="691.18" y2="422.20" stroke="#a4a4a4" stroke-width="1.8" stroke-dasharray="1.3 0.54"/>
<line x1="694.66" y1="339.80" x2="694.66" y2="353.70" stroke="#a4a4a4" stroke-width="1.8" stroke-dasharray="1.3 0.54"/>
<line x1="694.66" y1="408.30" x2="694.66" y2="422.20" stroke="#a4a4a4" stroke-width="1.8" stroke-dasharray="1.3 0.54"/>
<line x1="698.14" y1="339.80" x2="698.14" y2="353.70" stroke="#a4a4a4" stroke-width="1.8" stroke-dasharray="1.3 0.54"/>
<line x1="698.14" y1="408.30" x2="698.14" y2="422.20" stroke="#a4a4a4" stroke-width="1.8" stroke-dasharray="1.3 0.54"/>
<line x1="701.62" y1="339.80" x2="701.62" y2="353.70" stroke="#a4a4a4" stroke-width="1.8" stroke-dasharray="1.3 0.54"/>
<line x1="701.62" y1="408.30" x2="701.62" y2="422.20" stroke="#a4a4a4" stroke-width="1.8" stroke-dasharray="1.3 0.54"/>
<line x1="705.10" y1="339.80" x2="705.10" y2="353.70" stroke="#a4a4a4" stroke-width="1.8" stroke-dasharray="1.3 0.54"/>
<line x1="705.10" y1="408.30" x2="705.10" y2="422.20" stroke="#a4a4a4" stroke-width="1.8" stroke-dasharray="1.3 0.54"/>
<line x1="637.60" y1="355.10" x2="651.50" y2="355.10" stroke="#a4a4a4" stroke-width="1.8" stroke-dasharray="1.3 0.54"/>
<line x1="706.10" y1="355.10" x2="720.00" y2="355.10" stroke="#a4a4a4" stroke-width="1.8" stroke-dasharray="1.3 0.54"/>
<line x1="637.60" y1="358.58" x2="651.50" y2="358.58" stroke="#a4a4a4" stroke-width="1.8" stroke-dasharray="1.3 0.54"/>
<line x1="706.10" y1="358.58" x2="720.00" y2="358.58" stroke="#a4a4a4" stroke-width="1.8" stroke-dasharray="1.3 0.54"/>
<line x1="637.60" y1="362.06" x2="651.50" y2="362.06" stroke="#a4a4a4" stroke-width="1.8" stroke-dasharray="1.3 0.54"/>
<line x1="706.10" y1="362.06" x2="720.00" y2="362.06" stroke="#a4a4a4" stroke-width="1.8" stroke-dasharray="1.3 0.54"/>
<line x1="637.60" y1="365.54" x2="651.50" y2="365.54" stroke="#a4a4a4" stroke-width="1.8" stroke-dasharray="1.3 0.54"/>
<line x1="706.10" y1="365.54" x2="720.00" y2="365.54" stroke="#a4a4a4" stroke-width="1.8" stroke-dasharray="1.3 0.54"/>
<line x1="637.60" y1="369.02" x2="651.50" y2="369.02" stroke="#a4a4a4" stroke-width="1.8" stroke-dasharray="1.3 0.54"/>
<line x1="706.10" y1="369.02" x2="720.00" y2="369.02" stroke="#a4a4a4" stroke-width="1.8" stroke-dasharray="1.3 0.54"/>
<line x1="637.60" y1="372.50" x2="651.50" y2="372.50" stroke="#a4a4a4" stroke-width="1.8" stroke-dasharray="1.3 0.54"/>
<line x1="706.10" y1="372.50" x2="720.00" y2="372.50" stroke="#a4a4a4" stroke-width="1.8" stroke-dasharray="1.3 0.54"/>
<line x1="637.60" y1="375.98" x2="651.50" y2="375.98" stroke="#a4a4a4" stroke-width="1.8" stroke-dasharray="1.3 0.54"/>
<line x1="706.10" y1="375.98" x2="720.00" y2="375.98" stroke="#a4a4a4" stroke-width="1.8" stroke-dasharray="1.3 0.54"/>
<line x1="637.60" y1="379.46" x2="651.50" y2="379.46" stroke="#a4a4a4" stroke-width="1.8" stroke-dasharray="1.3 0.54"/>
<line x1="706.10" y1="379.46" x2="720.00" y2="379.46" stroke="#a4a4a4" stroke-width="1.8" stroke-dasharray="1.3 0.54"/>
<line x1="637.60" y1="382.94" x2="651.50" y2="382.94" stroke="#a4a4a4" stroke-width="1.8" stroke-dasharray="1.3 0.54"/>
<line x1="706.10" y1="382.94" x2="720.00" y2="382.94" stroke="#a4a4a4" stroke-width="1.8" stroke-dasharray="1.3 0.54"/>
<line x1="637.60" y1="386.42" x2="651.50" y2="386.42" stroke="#a4a4a4" stroke-width="1.8" stroke-dasharray="1.3 0.54"/>
<line x1="706.10" y1="386.42" x2="720.00" y2="386.42" stroke="#a4a4a4" stroke-width="1.8" stroke-dasharray="1.3 0.54"/>
<line x1="637.60" y1="389.90" x2="651.50" y2="389.90" stroke="#a4a4a4" stroke-width="1.8" stroke-dasharray="1.3 0.54"/>
<line x1="706.10" y1="389.90" x2="720.00" y2="389.90" stroke="#a4a4a4" stroke-width="1.8" stroke-dasharray="1.3 0.54"/>
<line x1="637.60" y1="393.38" x2="651.50" y2="393.38" stroke="#a4a4a4" stroke-width="1.8" stroke-dasharray="1.3 0.54"/>
<line x1="706.10" y1="393.38" x2="720.00" y2="393.38" stroke="#a4a4a4" stroke-width="1.8" stroke-dasharray="1.3 0.54"/>
<line x1="637.60" y1="396.86" x2="651.50" y2="396.86" stroke="#a4a4a4" stroke-width="1.8" stroke-dasharray="1.3 0.54"/>
<line x1="706.10" y1="396.86" x2="720.00" y2="396.86" stroke="#a4a4a4" stroke-width="1.8" stroke-dasharray="1.3 0.54"/>
<line x1="637.60" y1="400.34" x2="651.50" y2="400.34" stroke="#a4a4a4" stroke-width="1.8" stroke-dasharray="1.3 0.54"/>
<line x1="706.10" y1="400.34" x2="720.00" y2="400.34" stroke="#a4a4a4" stroke-width="1.8" stroke-dasharray="1.3 0.54"/>
<line x1="637.60" y1="403.82" x2="651.50" y2="403.82" stroke="#a4a4a4" stroke-width="1.8" stroke-dasharray="1.3 0.54"/>
<line x1="706.10" y1="403.82" x2="720.00" y2="403.82" stroke="#a4a4a4" stroke-width="1.8" stroke-dasharray="1.3 0.54"/>
<line x1="637.60" y1="407.30" x2="651.50" y2="407.30" stroke="#a4a4a4" stroke-width="1.8" stroke-dasharray="1.3 0.54"/>
<line x1="706.10" y1="407.30" x2="720.00" y2="407.30" stroke="#a4a4a4" stroke-width="1.8" stroke-dasharray="1.3 0.54"/>
<line x1="651.90" y1="355.84" x2="705.70" y2="355.84" stroke="#9c9c9c" stroke-width="1.9" stroke-dasharray="1.9 1.580"/>
<line x1="651.90" y1="359.32" x2="705.70" y2="359.32" stroke="#9c9c9c" stroke-width="1.9" stroke-dasharray="1.9 1.580"/>
<line x1="651.90" y1="362.80" x2="705.70" y2="362.80" stroke="#9c9c9c" stroke-width="1.9" stroke-dasharray="1.9 1.580"/>
<line x1="651.90" y1="366.28" x2="705.70" y2="366.28" stroke="#9c9c9c" stroke-width="1.9" stroke-dasharray="1.9 1.580"/>
<line x1="651.90" y1="369.76" x2="705.70" y2="369.76" stroke="#9c9c9c" stroke-width="1.9" stroke-dasharray="1.9 1.580"/>
<line x1="651.90" y1="373.24" x2="705.70" y2="373.24" stroke="#9c9c9c" stroke-width="1.9" stroke-dasharray="1.9 1.580"/>
<line x1="651.90" y1="376.72" x2="705.70" y2="376.72" stroke="#9c9c9c" stroke-width="1.9" stroke-dasharray="1.9 1.580"/>
<line x1="651.90" y1="380.20" x2="705.70" y2="380.20" stroke="#9c9c9c" stroke-width="1.9" stroke-dasharray="1.9 1.580"/>
<line x1="651.90" y1="383.68" x2="705.70" y2="383.68" stroke="#9c9c9c" stroke-width="1.9" stroke-dasharray="1.9 1.580"/>
<line x1="651.90" y1="387.16" x2="705.70" y2="387.16" stroke="#9c9c9c" stroke-width="1.9" stroke-dasharray="1.9 1.580"/>
<line x1="651.90" y1="390.64" x2="705.70" y2="390.64" stroke="#9c9c9c" stroke-width="1.9" stroke-dasharray="1.9 1.580"/>
<line x1="651.90" y1="394.12" x2="705.70" y2="394.12" stroke="#9c9c9c" stroke-width="1.9" stroke-dasharray="1.9 1.580"/>
<line x1="651.90" y1="397.60" x2="705.70" y2="397.60" stroke="#9c9c9c" stroke-width="1.9" stroke-dasharray="1.9 1.580"/>
<line x1="651.90" y1="401.08" x2="705.70" y2="401.08" stroke="#9c9c9c" stroke-width="1.9" stroke-dasharray="1.9 1.580"/>
<line x1="651.90" y1="404.56" x2="705.70" y2="404.56" stroke="#9c9c9c" stroke-width="1.9" stroke-dasharray="1.9 1.580"/>
<line x1="653.64" y1="357.58" x2="705.70" y2="357.58" stroke="#666" stroke-width="1.2" stroke-dasharray="1.2 2.280"/>
<line x1="653.64" y1="361.06" x2="705.70" y2="361.06" stroke="#666" stroke-width="1.2" stroke-dasharray="1.2 2.280"/>
<line x1="653.64" y1="364.54" x2="705.70" y2="364.54" stroke="#666" stroke-width="1.2" stroke-dasharray="1.2 2.280"/>
<line x1="653.64" y1="368.02" x2="705.70" y2="368.02" stroke="#666" stroke-width="1.2" stroke-dasharray="1.2 2.280"/>
<line x1="653.64" y1="371.50" x2="705.70" y2="371.50" stroke="#666" stroke-width="1.2" stroke-dasharray="1.2 2.280"/>
<line x1="653.64" y1="374.98" x2="705.70" y2="374.98" stroke="#666" stroke-width="1.2" stroke-dasharray="1.2 2.280"/>
<line x1="653.64" y1="378.46" x2="705.70" y2="378.46" stroke="#666" stroke-width="1.2" stroke-dasharray="1.2 2.280"/>
<line x1="653.64" y1="381.94" x2="705.70" y2="381.94" stroke="#666" stroke-width="1.2" stroke-dasharray="1.2 2.280"/>
<line x1="653.64" y1="385.42" x2="705.70" y2="385.42" stroke="#666" stroke-width="1.2" stroke-dasharray="1.2 2.280"/>
<line x1="653.64" y1="388.90" x2="705.70" y2="388.90" stroke="#666" stroke-width="1.2" stroke-dasharray="1.2 2.280"/>
<line x1="653.64" y1="392.38" x2="705.70" y2="392.38" stroke="#666" stroke-width="1.2" stroke-dasharray="1.2 2.280"/>
<line x1="653.64" y1="395.86" x2="705.70" y2="395.86" stroke="#666" stroke-width="1.2" stroke-dasharray="1.2 2.280"/>
<line x1="653.64" y1="399.34" x2="705.70" y2="399.34" stroke="#666" stroke-width="1.2" stroke-dasharray="1.2 2.280"/>
<line x1="653.64" y1="402.82" x2="705.70" y2="402.82" stroke="#666" stroke-width="1.2" stroke-dasharray="1.2 2.280"/>
<line x1="653.64" y1="406.30" x2="705.70" y2="406.30" stroke="#666" stroke-width="1.2" stroke-dasharray="1.2 2.280"/>
</g>
<rect x="628.00" y="330.20" width="101.60" height="101.60" fill="none" stroke="#c8c8c8" stroke-width="1.2"/>
<text x="678.60" y="381.00" font-size="19" fill="#a8a8a8" text-anchor="middle" dominant-baseline="central" textLength="34.0" lengthAdjust="spacingAndGlyphs">U20</text>
<defs><clipPath id="u26tb"><polygon points="607.1,545.9 688.6,545.9 664.8,569.4 634.0,569.4"/><polygon points="607.1,627.0 688.6,627.0 664.8,603.5 634.0,603.5"/></clipPath><clipPath id="u26lr"><polygon points="607.1,545.9 634.0,569.4 634.0,603.5 607.1,627.0"/><polygon points="688.6,545.9 664.8,569.4 664.8,603.5 688.6,627.0"/></clipPath></defs>
<g clip-path="url(#u26tb)">
<line x1="609.30" y1="545.90" x2="609.30" y2="627.00" stroke="#8c8c8c" stroke-width="2.65" stroke-dasharray="1.5 0.28"/>
<line x1="612.80" y1="545.90" x2="612.80" y2="627.00" stroke="#8c8c8c" stroke-width="2.65" stroke-dasharray="1.5 0.28"/>
<line x1="616.30" y1="545.90" x2="616.30" y2="627.00" stroke="#8c8c8c" stroke-width="2.65" stroke-dasharray="1.5 0.28"/>
<line x1="619.80" y1="545.90" x2="619.80" y2="627.00" stroke="#8c8c8c" stroke-width="2.65" stroke-dasharray="1.5 0.28"/>
<line x1="623.30" y1="545.90" x2="623.30" y2="627.00" stroke="#8c8c8c" stroke-width="2.65" stroke-dasharray="1.5 0.28"/>
<line x1="626.80" y1="545.90" x2="626.80" y2="627.00" stroke="#8c8c8c" stroke-width="2.65" stroke-dasharray="1.5 0.28"/>
<line x1="630.30" y1="545.90" x2="630.30" y2="627.00" stroke="#8c8c8c" stroke-width="2.65" stroke-dasharray="1.5 0.28"/>
<line x1="633.80" y1="545.90" x2="633.80" y2="627.00" stroke="#8c8c8c" stroke-width="2.65" stroke-dasharray="1.5 0.28"/>
<line x1="637.30" y1="545.90" x2="637.30" y2="627.00" stroke="#8c8c8c" stroke-width="2.65" stroke-dasharray="1.5 0.28"/>
<line x1="640.80" y1="545.90" x2="640.80" y2="627.00" stroke="#8c8c8c" stroke-width="2.65" stroke-dasharray="1.5 0.28"/>
<line x1="644.30" y1="545.90" x2="644.30" y2="627.00" stroke="#8c8c8c" stroke-width="2.65" stroke-dasharray="1.5 0.28"/>
<line x1="647.80" y1="545.90" x2="647.80" y2="627.00" stroke="#8c8c8c" stroke-width="2.65" stroke-dasharray="1.5 0.28"/>
<line x1="651.30" y1="545.90" x2="651.30" y2="627.00" stroke="#8c8c8c" stroke-width="2.65" stroke-dasharray="1.5 0.28"/>
<line x1="654.80" y1="545.90" x2="654.80" y2="627.00" stroke="#8c8c8c" stroke-width="2.65" stroke-dasharray="1.5 0.28"/>
<line x1="658.30" y1="545.90" x2="658.30" y2="627.00" stroke="#8c8c8c" stroke-width="2.65" stroke-dasharray="1.5 0.28"/>
<line x1="661.80" y1="545.90" x2="661.80" y2="627.00" stroke="#8c8c8c" stroke-width="2.65" stroke-dasharray="1.5 0.28"/>
<line x1="665.30" y1="545.90" x2="665.30" y2="627.00" stroke="#8c8c8c" stroke-width="2.65" stroke-dasharray="1.5 0.28"/>
<line x1="668.80" y1="545.90" x2="668.80" y2="627.00" stroke="#8c8c8c" stroke-width="2.65" stroke-dasharray="1.5 0.28"/>
<line x1="672.30" y1="545.90" x2="672.30" y2="627.00" stroke="#8c8c8c" stroke-width="2.65" stroke-dasharray="1.5 0.28"/>
<line x1="675.80" y1="545.90" x2="675.80" y2="627.00" stroke="#8c8c8c" stroke-width="2.65" stroke-dasharray="1.5 0.28"/>
<line x1="679.30" y1="545.90" x2="679.30" y2="627.00" stroke="#8c8c8c" stroke-width="2.65" stroke-dasharray="1.5 0.28"/>
<line x1="682.80" y1="545.90" x2="682.80" y2="627.00" stroke="#8c8c8c" stroke-width="2.65" stroke-dasharray="1.5 0.28"/>
<line x1="686.30" y1="545.90" x2="686.30" y2="627.00" stroke="#8c8c8c" stroke-width="2.65" stroke-dasharray="1.5 0.28"/>
</g>
<g clip-path="url(#u26lr)">
<line x1="607.10" y1="548.10" x2="688.60" y2="548.10" stroke="#8c8c8c" stroke-width="2.65" stroke-dasharray="1.5 0.28"/>
<line x1="607.10" y1="551.60" x2="688.60" y2="551.60" stroke="#8c8c8c" stroke-width="2.65" stroke-dasharray="1.5 0.28"/>
<line x1="607.10" y1="555.10" x2="688.60" y2="555.10" stroke="#8c8c8c" stroke-width="2.65" stroke-dasharray="1.5 0.28"/>
<line x1="607.10" y1="558.60" x2="688.60" y2="558.60" stroke="#8c8c8c" stroke-width="2.65" stroke-dasharray="1.5 0.28"/>
<line x1="607.10" y1="562.10" x2="688.60" y2="562.10" stroke="#8c8c8c" stroke-width="2.65" stroke-dasharray="1.5 0.28"/>
<line x1="607.10" y1="565.60" x2="688.60" y2="565.60" stroke="#8c8c8c" stroke-width="2.65" stroke-dasharray="1.5 0.28"/>
<line x1="607.10" y1="569.10" x2="688.60" y2="569.10" stroke="#8c8c8c" stroke-width="2.65" stroke-dasharray="1.5 0.28"/>
<line x1="607.10" y1="572.60" x2="688.60" y2="572.60" stroke="#8c8c8c" stroke-width="2.65" stroke-dasharray="1.5 0.28"/>
<line x1="607.10" y1="576.10" x2="688.60" y2="576.10" stroke="#8c8c8c" stroke-width="2.65" stroke-dasharray="1.5 0.28"/>
<line x1="607.10" y1="579.60" x2="688.60" y2="579.60" stroke="#8c8c8c" stroke-width="2.65" stroke-dasharray="1.5 0.28"/>
<line x1="607.10" y1="583.10" x2="688.60" y2="583.10" stroke="#8c8c8c" stroke-width="2.65" stroke-dasharray="1.5 0.28"/>
<line x1="607.10" y1="586.60" x2="688.60" y2="586.60" stroke="#8c8c8c" stroke-width="2.65" stroke-dasharray="1.5 0.28"/>
<line x1="607.10" y1="590.10" x2="688.60" y2="590.10" stroke="#8c8c8c" stroke-width="2.65" stroke-dasharray="1.5 0.28"/>
<line x1="607.10" y1="593.60" x2="688.60" y2="593.60" stroke="#8c8c8c" stroke-width="2.65" stroke-dasharray="1.5 0.28"/>
<line x1="607.10" y1="597.10" x2="688.60" y2="597.10" stroke="#8c8c8c" stroke-width="2.65" stroke-dasharray="1.5 0.28"/>
<line x1="607.10" y1="600.60" x2="688.60" y2="600.60" stroke="#8c8c8c" stroke-width="2.65" stroke-dasharray="1.5 0.28"/>
<line x1="607.10" y1="604.10" x2="688.60" y2="604.10" stroke="#8c8c8c" stroke-width="2.65" stroke-dasharray="1.5 0.28"/>
<line x1="607.10" y1="607.60" x2="688.60" y2="607.60" stroke="#8c8c8c" stroke-width="2.65" stroke-dasharray="1.5 0.28"/>
<line x1="607.10" y1="611.10" x2="688.60" y2="611.10" stroke="#8c8c8c" stroke-width="2.65" stroke-dasharray="1.5 0.28"/>
<line x1="607.10" y1="614.60" x2="688.60" y2="614.60" stroke="#8c8c8c" stroke-width="2.65" stroke-dasharray="1.5 0.28"/>
<line x1="607.10" y1="618.10" x2="688.60" y2="618.10" stroke="#8c8c8c" stroke-width="2.65" stroke-dasharray="1.5 0.28"/>
<line x1="607.10" y1="621.60" x2="688.60" y2="621.60" stroke="#8c8c8c" stroke-width="2.65" stroke-dasharray="1.5 0.28"/>
<line x1="607.10" y1="625.10" x2="688.60" y2="625.10" stroke="#8c8c8c" stroke-width="2.65" stroke-dasharray="1.5 0.28"/>
</g>
<rect x="634.00" y="569.40" width="30.80" height="34.10" fill="#000" stroke="none" stroke-width="1"/>
<line x1="634.00" y1="570.25" x2="664.80" y2="570.25" stroke="#989898" stroke-width="1.2" stroke-dasharray="1.2 0.500"/>
<line x1="634.00" y1="571.95" x2="664.80" y2="571.95" stroke="#989898" stroke-width="1.2" stroke-dasharray="1.2 0.500"/>
<line x1="634.00" y1="573.65" x2="664.80" y2="573.65" stroke="#989898" stroke-width="1.2" stroke-dasharray="1.2 0.500"/>
<line x1="634.00" y1="575.35" x2="664.80" y2="575.35" stroke="#989898" stroke-width="1.2" stroke-dasharray="1.2 0.500"/>
<line x1="634.00" y1="577.05" x2="664.80" y2="577.05" stroke="#989898" stroke-width="1.2" stroke-dasharray="1.2 0.500"/>
<line x1="634.00" y1="578.75" x2="664.80" y2="578.75" stroke="#989898" stroke-width="1.2" stroke-dasharray="1.2 0.500"/>
<line x1="634.00" y1="580.45" x2="664.80" y2="580.45" stroke="#989898" stroke-width="1.2" stroke-dasharray="1.2 0.500"/>
<line x1="634.00" y1="582.15" x2="664.80" y2="582.15" stroke="#989898" stroke-width="1.2" stroke-dasharray="1.2 0.500"/>
<line x1="634.00" y1="583.85" x2="664.80" y2="583.85" stroke="#989898" stroke-width="1.2" stroke-dasharray="1.2 0.500"/>
<line x1="634.00" y1="585.55" x2="664.80" y2="585.55" stroke="#989898" stroke-width="1.2" stroke-dasharray="1.2 0.500"/>
<line x1="634.00" y1="587.25" x2="664.80" y2="587.25" stroke="#989898" stroke-width="1.2" stroke-dasharray="1.2 0.500"/>
<line x1="634.00" y1="588.95" x2="664.80" y2="588.95" stroke="#989898" stroke-width="1.2" stroke-dasharray="1.2 0.500"/>
<line x1="634.00" y1="590.65" x2="664.80" y2="590.65" stroke="#989898" stroke-width="1.2" stroke-dasharray="1.2 0.500"/>
<line x1="634.00" y1="592.35" x2="664.80" y2="592.35" stroke="#989898" stroke-width="1.2" stroke-dasharray="1.2 0.500"/>
<line x1="634.00" y1="594.05" x2="664.80" y2="594.05" stroke="#989898" stroke-width="1.2" stroke-dasharray="1.2 0.500"/>
<line x1="634.00" y1="595.75" x2="664.80" y2="595.75" stroke="#989898" stroke-width="1.2" stroke-dasharray="1.2 0.500"/>
<line x1="634.00" y1="597.45" x2="664.80" y2="597.45" stroke="#989898" stroke-width="1.2" stroke-dasharray="1.2 0.500"/>
<line x1="634.00" y1="599.15" x2="664.80" y2="599.15" stroke="#989898" stroke-width="1.2" stroke-dasharray="1.2 0.500"/>
<line x1="634.00" y1="600.85" x2="664.80" y2="600.85" stroke="#989898" stroke-width="1.2" stroke-dasharray="1.2 0.500"/>
<line x1="634.00" y1="602.55" x2="664.80" y2="602.55" stroke="#989898" stroke-width="1.2" stroke-dasharray="1.2 0.500"/>
<line x1="604.70" y1="545.00" x2="691.00" y2="545.00" stroke="#8a8a8a" stroke-width="3.0" stroke-dasharray="1.2 0.55"/>
<line x1="604.70" y1="627.90" x2="691.00" y2="627.90" stroke="#8a8a8a" stroke-width="3.0" stroke-dasharray="1.2 0.55"/>
<line x1="606.20" y1="543.50" x2="606.20" y2="629.40" stroke="#8a8a8a" stroke-width="3.0" stroke-dasharray="1.2 0.55"/>
<line x1="689.50" y1="543.50" x2="689.50" y2="629.40" stroke="#8a8a8a" stroke-width="3.0" stroke-dasharray="1.2 0.55"/>
<rect x="607.60" y="546.40" width="5.80" height="5.80" fill="#000" stroke="none" stroke-width="1"/>
<circle cx="610.50" cy="549.30" r="1.80" fill="none" stroke="#999" stroke-width="0.9"/>
<rect x="682.30" y="546.40" width="5.80" height="5.80" fill="#000" stroke="none" stroke-width="1"/>
<circle cx="685.20" cy="549.30" r="1.80" fill="none" stroke="#999" stroke-width="0.9"/>
<rect x="607.60" y="620.70" width="5.80" height="5.80" fill="#000" stroke="none" stroke-width="1"/>
<circle cx="610.50" cy="623.60" r="1.80" fill="none" stroke="#999" stroke-width="0.9"/>
<rect x="682.30" y="620.70" width="5.80" height="5.80" fill="#000" stroke="none" stroke-width="1"/>
<circle cx="685.20" cy="623.60" r="1.80" fill="none" stroke="#999" stroke-width="0.9"/>
<rect x="604.10" y="542.90" width="87.50" height="87.10" fill="none" stroke="#c8c8c8" stroke-width="1.2"/>
<text x="648.50" y="586.50" font-size="19" fill="#a0a0a0" text-anchor="middle" dominant-baseline="central" textLength="35.0" lengthAdjust="spacingAndGlyphs">U26</text>
<rect x="651.20" y="468.30" width="46.00" height="25.30" fill="none" stroke="#c8c8c8" stroke-width="1.1"/>
<line x1="652.00" y1="470.20" x2="696.40" y2="470.20" stroke="#a8a8a8" stroke-width="1.8" stroke-dasharray="1.7 0.83"/>
<line x1="652.00" y1="491.70" x2="696.40" y2="491.70" stroke="#a8a8a8" stroke-width="1.8" stroke-dasharray="1.7 0.83"/>
<line x1="652.00" y1="472.70" x2="696.40" y2="472.70" stroke="#a8a8a8" stroke-width="1.8" stroke-dasharray="1.7 0.83"/>
<line x1="652.00" y1="489.20" x2="696.40" y2="489.20" stroke="#a8a8a8" stroke-width="1.8" stroke-dasharray="1.7 0.83"/>
<line x1="652.00" y1="475.20" x2="696.40" y2="475.20" stroke="#a8a8a8" stroke-width="1.8" stroke-dasharray="1.7 0.83"/>
<line x1="652.00" y1="486.70" x2="696.40" y2="486.70" stroke="#a8a8a8" stroke-width="1.8" stroke-dasharray="1.7 0.83"/>
<text x="674.20" y="480.95" font-size="15.5" fill="#7c7c7c" text-anchor="middle" dominant-baseline="central" textLength="27.4" lengthAdjust="spacingAndGlyphs">U24</text>
<rect x="711.50" y="468.30" width="46.10" height="25.30" fill="none" stroke="#c8c8c8" stroke-width="1.1"/>
<line x1="712.30" y1="470.20" x2="756.80" y2="470.20" stroke="#a8a8a8" stroke-width="1.8" stroke-dasharray="1.7 0.83"/>
<line x1="712.30" y1="491.70" x2="756.80" y2="491.70" stroke="#a8a8a8" stroke-width="1.8" stroke-dasharray="1.7 0.83"/>
<line x1="712.30" y1="472.70" x2="756.80" y2="472.70" stroke="#a8a8a8" stroke-width="1.8" stroke-dasharray="1.7 0.83"/>
<line x1="712.30" y1="489.20" x2="756.80" y2="489.20" stroke="#a8a8a8" stroke-width="1.8" stroke-dasharray="1.7 0.83"/>
<line x1="712.30" y1="475.20" x2="756.80" y2="475.20" stroke="#a8a8a8" stroke-width="1.8" stroke-dasharray="1.7 0.83"/>
<line x1="712.30" y1="486.70" x2="756.80" y2="486.70" stroke="#a8a8a8" stroke-width="1.8" stroke-dasharray="1.7 0.83"/>
<text x="734.55" y="480.95" font-size="15.5" fill="#7c7c7c" text-anchor="middle" dominant-baseline="central" textLength="27.4" lengthAdjust="spacingAndGlyphs">U23</text>
<rect x="753.40" y="320.40" width="26.10" height="45.70" fill="none" stroke="#c8c8c8" stroke-width="1.1"/>
<line x1="755.30" y1="321.20" x2="755.30" y2="365.30" stroke="#a8a8a8" stroke-width="1.8" stroke-dasharray="1.7 0.83"/>
<line x1="777.60" y1="321.20" x2="777.60" y2="365.30" stroke="#a8a8a8" stroke-width="1.8" stroke-dasharray="1.7 0.83"/>
<line x1="757.80" y1="321.20" x2="757.80" y2="365.30" stroke="#a8a8a8" stroke-width="1.8" stroke-dasharray="1.7 0.83"/>
<line x1="775.10" y1="321.20" x2="775.10" y2="365.30" stroke="#a8a8a8" stroke-width="1.8" stroke-dasharray="1.7 0.83"/>
<line x1="760.30" y1="321.20" x2="760.30" y2="365.30" stroke="#a8a8a8" stroke-width="1.8" stroke-dasharray="1.7 0.83"/>
<line x1="772.60" y1="321.20" x2="772.60" y2="365.30" stroke="#a8a8a8" stroke-width="1.8" stroke-dasharray="1.7 0.83"/>
<text x="766.45" y="343.25" font-size="15.5" fill="#7c7c7c" text-anchor="middle" dominant-baseline="central" textLength="27.4" lengthAdjust="spacingAndGlyphs" transform="rotate(-90 766.45 343.25)">U17</text>
<rect x="753.40" y="390.50" width="26.10" height="46.10" fill="none" stroke="#c8c8c8" stroke-width="1.1"/>
<line x1="755.30" y1="391.30" x2="755.30" y2="435.80" stroke="#a8a8a8" stroke-width="1.8" stroke-dasharray="1.7 0.83"/>
<line x1="777.60" y1="391.30" x2="777.60" y2="435.80" stroke="#a8a8a8" stroke-width="1.8" stroke-dasharray="1.7 0.83"/>
<line x1="757.80" y1="391.30" x2="757.80" y2="435.80" stroke="#a8a8a8" stroke-width="1.8" stroke-dasharray="1.7 0.83"/>
<line x1="775.10" y1="391.30" x2="775.10" y2="435.80" stroke="#a8a8a8" stroke-width="1.8" stroke-dasharray="1.7 0.83"/>
<line x1="760.30" y1="391.30" x2="760.30" y2="435.80" stroke="#a8a8a8" stroke-width="1.8" stroke-dasharray="1.7 0.83"/>
<line x1="772.60" y1="391.30" x2="772.60" y2="435.80" stroke="#a8a8a8" stroke-width="1.8" stroke-dasharray="1.7 0.83"/>
<text x="766.45" y="413.55" font-size="15.5" fill="#7c7c7c" text-anchor="middle" dominant-baseline="central" textLength="27.4" lengthAdjust="spacingAndGlyphs" transform="rotate(-90 766.45 413.55)">U21</text>
<rect x="192.75" y="103.65" width="22.90" height="2.10" fill="#000" stroke="#c8c8c8" stroke-width="0.9"/>
<rect x="160.60" y="111.30" width="9.00" height="12.80" fill="none" stroke="#c8c8c8" stroke-width="1.1"/>
<rect x="162.10" y="112.80" width="6.00" height="9.80" fill="none" stroke="#777" stroke-width="0.8"/>
<rect x="174.70" y="110.90" width="9.00" height="13.20" fill="none" stroke="#c8c8c8" stroke-width="1.1"/>
<rect x="176.20" y="112.40" width="6.00" height="10.20" fill="none" stroke="#777" stroke-width="0.8"/>
<rect x="168.75" y="128.55" width="14.50" height="2.20" fill="#7c7c7c" stroke="#c8c8c8" stroke-width="0.9"/>
<rect x="172.35" y="135.05" width="7.00" height="2.30" fill="#7c7c7c" stroke="#c8c8c8" stroke-width="0.9"/>
<rect x="173.55" y="139.95" width="4.80" height="2.30" fill="#7c7c7c" stroke="#c8c8c8" stroke-width="0.9"/>
<rect x="196.85" y="121.25" width="2.60" height="5.00" fill="#7c7c7c" stroke="#c8c8c8" stroke-width="0.9"/>
<rect x="195.25" y="129.55" width="2.40" height="8.50" fill="#7c7c7c" stroke="#c8c8c8" stroke-width="0.9"/>
<rect x="158.75" y="160.85" width="22.70" height="2.40" fill="#7c7c7c" stroke="#c8c8c8" stroke-width="0.9"/>
<rect x="158.75" y="186.35" width="22.70" height="2.40" fill="#000" stroke="#c8c8c8" stroke-width="0.9"/>
<rect x="229.40" y="57.40" width="82.10" height="6.00" fill="none" stroke="#c8c8c8" stroke-width="1.1"/>
<circle cx="241.60" cy="60.40" r="2.30" fill="none" stroke="#b0b0b0" stroke-width="0.8"/>
<circle cx="248.80" cy="60.40" r="2.30" fill="none" stroke="#b0b0b0" stroke-width="0.8"/>
<circle cx="256.00" cy="60.40" r="2.30" fill="none" stroke="#b0b0b0" stroke-width="0.8"/>
<circle cx="263.10" cy="60.40" r="2.30" fill="none" stroke="#b0b0b0" stroke-width="0.8"/>
<circle cx="270.30" cy="60.40" r="2.30" fill="none" stroke="#b0b0b0" stroke-width="0.8"/>
<circle cx="277.50" cy="60.40" r="2.30" fill="none" stroke="#b0b0b0" stroke-width="0.8"/>
<circle cx="284.70" cy="60.40" r="2.30" fill="none" stroke="#b0b0b0" stroke-width="0.8"/>
<circle cx="291.90" cy="60.40" r="2.30" fill="none" stroke="#b0b0b0" stroke-width="0.8"/>
<circle cx="299.00" cy="60.40" r="2.30" fill="none" stroke="#b0b0b0" stroke-width="0.8"/>
<rect x="227.25" y="71.75" width="5.40" height="2.30" fill="#7c7c7c" stroke="#c8c8c8" stroke-width="0.9"/>
<rect x="238.35" y="71.75" width="4.10" height="2.30" fill="#7c7c7c" stroke="#c8c8c8" stroke-width="0.9"/>
<rect x="243.35" y="75.25" width="2.70" height="11.30" fill="#7c7c7c" stroke="#c8c8c8" stroke-width="0.9"/>
<rect x="255.35" y="74.25" width="3.20" height="15.10" fill="#7c7c7c" stroke="#c8c8c8" stroke-width="0.9"/>
<rect x="264.45" y="74.25" width="3.10" height="15.10" fill="#7c7c7c" stroke="#c8c8c8" stroke-width="0.9"/>
<rect x="272.50" y="72.00" width="10.00" height="13.40" fill="none" stroke="#c8c8c8" stroke-width="1.1"/>
<rect x="274.00" y="73.50" width="7.00" height="10.40" fill="none" stroke="#777" stroke-width="0.8"/>
<rect x="285.35" y="75.55" width="5.10" height="2.10" fill="#7c7c7c" stroke="#c8c8c8" stroke-width="0.9"/>
<rect x="287.05" y="80.45" width="2.40" height="5.00" fill="#7c7c7c" stroke="#c8c8c8" stroke-width="0.9"/>
<rect x="291.35" y="81.55" width="2.70" height="7.40" fill="#7c7c7c" stroke="#c8c8c8" stroke-width="0.9"/>
<rect x="295.95" y="81.55" width="2.60" height="7.40" fill="#7c7c7c" stroke="#c8c8c8" stroke-width="0.9"/>
<rect x="302.35" y="77.45" width="3.20" height="14.90" fill="#7c7c7c" stroke="#c8c8c8" stroke-width="0.9"/>
<rect x="311.85" y="80.45" width="8.70" height="2.40" fill="#000" stroke="#c8c8c8" stroke-width="0.9"/>
<rect x="308.90" y="87.70" width="13.50" height="9.50" fill="none" stroke="#c8c8c8" stroke-width="1.1"/>
<rect x="310.40" y="89.20" width="10.50" height="6.50" fill="none" stroke="#777" stroke-width="0.8"/>
<rect x="259.45" y="93.55" width="5.60" height="2.10" fill="#7c7c7c" stroke="#c8c8c8" stroke-width="0.9"/>
<rect x="258.35" y="98.15" width="7.30" height="2.30" fill="#7c7c7c" stroke="#c8c8c8" stroke-width="0.9"/>
<rect x="272.45" y="95.45" width="10.70" height="3.10" fill="#7c7c7c" stroke="#c8c8c8" stroke-width="0.9"/>
<rect x="285.60" y="93.60" width="14.00" height="9.40" fill="none" stroke="#c8c8c8" stroke-width="1.1"/>
<rect x="287.10" y="95.10" width="11.00" height="6.40" fill="none" stroke="#777" stroke-width="0.8"/>
<rect x="339.25" y="98.75" width="17.00" height="2.70" fill="#7c7c7c" stroke="#c8c8c8" stroke-width="0.9"/>
<rect x="360.55" y="93.25" width="2.10" height="7.20" fill="#000" stroke="#c8c8c8" stroke-width="0.9"/>
<rect x="364.75" y="95.55" width="2.50" height="4.90" fill="#7c7c7c" stroke="#c8c8c8" stroke-width="0.9"/>
<rect x="369.25" y="95.55" width="2.20" height="4.90" fill="#7c7c7c" stroke="#c8c8c8" stroke-width="0.9"/>
<rect x="387.55" y="85.45" width="2.20" height="23.70" fill="#222" stroke="#c8c8c8" stroke-width="0.9"/>
<rect x="385.45" y="121.35" width="2.10" height="7.20" fill="#000" stroke="#c8c8c8" stroke-width="0.9"/>
<rect x="412.75" y="82.35" width="2.70" height="14.40" fill="#7c7c7c" stroke="#c8c8c8" stroke-width="0.9"/>
<rect x="420.60" y="87.30" width="8.80" height="12.90" fill="none" stroke="#c8c8c8" stroke-width="1.1"/>
<rect x="422.10" y="88.80" width="5.80" height="9.90" fill="none" stroke="#777" stroke-width="0.8"/>
<rect x="431.15" y="77.15" width="2.20" height="5.30" fill="#7c7c7c" stroke="#c8c8c8" stroke-width="0.9"/>
<rect x="436.85" y="73.15" width="8.40" height="2.30" fill="#7c7c7c" stroke="#c8c8c8" stroke-width="0.9"/>
<rect x="435.00" y="79.80" width="13.30" height="9.50" fill="none" stroke="#c8c8c8" stroke-width="1.1"/>
<rect x="436.50" y="81.30" width="10.30" height="6.50" fill="none" stroke="#777" stroke-width="0.8"/>
<rect x="434.35" y="101.85" width="23.50" height="2.80" fill="#7c7c7c" stroke="#c8c8c8" stroke-width="0.9"/>
<rect x="462.45" y="72.25" width="2.20" height="8.80" fill="#000" stroke="#c8c8c8" stroke-width="0.9"/>
<rect x="468.25" y="71.55" width="2.30" height="5.20" fill="#7c7c7c" stroke="#c8c8c8" stroke-width="0.9"/>
<rect x="465.05" y="90.25" width="2.30" height="13.40" fill="#7c7c7c" stroke="#c8c8c8" stroke-width="0.9"/>
<rect x="482.55" y="78.45" width="2.50" height="23.50" fill="#7c7c7c" stroke="#c8c8c8" stroke-width="0.9"/>
<rect x="472.55" y="105.55" width="5.20" height="2.60" fill="#7c7c7c" stroke="#c8c8c8" stroke-width="0.9"/>
<rect x="497.05" y="85.95" width="2.50" height="7.60" fill="#7c7c7c" stroke="#c8c8c8" stroke-width="0.9"/>
<rect x="496.45" y="95.75" width="8.10" height="2.60" fill="#7c7c7c" stroke="#c8c8c8" stroke-width="0.9"/>
<rect x="404.65" y="111.35" width="7.80" height="2.00" fill="#7c7c7c" stroke="#c8c8c8" stroke-width="0.9"/>
<rect x="397.45" y="116.65" width="8.00" height="2.30" fill="#7c7c7c" stroke="#c8c8c8" stroke-width="0.9"/>
<rect x="399.75" y="122.05" width="7.90" height="2.40" fill="#7c7c7c" stroke="#c8c8c8" stroke-width="0.9"/>
<rect x="400.05" y="130.55" width="5.60" height="2.40" fill="#7c7c7c" stroke="#c8c8c8" stroke-width="0.9"/>
<rect x="411.20" y="116.90" width="10.50" height="10.50" fill="none" stroke="#c8c8c8" stroke-width="1.1"/>
<rect x="412.70" y="118.40" width="7.50" height="7.50" fill="none" stroke="#777" stroke-width="0.8"/>
<line x1="412.50" y1="118.20" x2="420.40" y2="126.10" stroke="#888" stroke-width="0.8"/>
<line x1="420.40" y1="118.20" x2="412.50" y2="126.10" stroke="#888" stroke-width="0.8"/>
<rect x="426.45" y="117.95" width="5.10" height="2.30" fill="#7c7c7c" stroke="#c8c8c8" stroke-width="0.9"/>
<rect x="428.15" y="122.05" width="5.20" height="2.40" fill="#7c7c7c" stroke="#c8c8c8" stroke-width="0.9"/>
<rect x="425.25" y="127.05" width="5.50" height="2.40" fill="#7c7c7c" stroke="#c8c8c8" stroke-width="0.9"/>
<rect x="488.15" y="111.15" width="8.50" height="2.30" fill="#000" stroke="#c8c8c8" stroke-width="0.9"/>
<rect x="492.05" y="116.95" width="5.40" height="2.40" fill="#7c7c7c" stroke="#c8c8c8" stroke-width="0.9"/>
<rect x="475.55" y="132.65" width="9.10" height="2.90" fill="#7c7c7c" stroke="#c8c8c8" stroke-width="0.9"/>
<rect x="530.25" y="60.45" width="2.40" height="5.20" fill="#7c7c7c" stroke="#c8c8c8" stroke-width="0.9"/>
<rect x="535.85" y="60.45" width="2.70" height="5.20" fill="#7c7c7c" stroke="#c8c8c8" stroke-width="0.9"/>
<rect x="541.80" y="60.70" width="9.70" height="6.90" fill="none" stroke="#c8c8c8" stroke-width="1.1"/>
<rect x="543.30" y="62.20" width="6.70" height="3.90" fill="none" stroke="#777" stroke-width="0.8"/>
<rect x="555.45" y="60.45" width="2.30" height="5.20" fill="#7c7c7c" stroke="#c8c8c8" stroke-width="0.9"/>
<rect x="560.35" y="60.45" width="2.30" height="5.20" fill="#7c7c7c" stroke="#c8c8c8" stroke-width="0.9"/>
<rect x="565.15" y="60.45" width="2.50" height="5.20" fill="#7c7c7c" stroke="#c8c8c8" stroke-width="0.9"/>
<rect x="508.75" y="67.45" width="2.60" height="5.40" fill="#7c7c7c" stroke="#c8c8c8" stroke-width="0.9"/>
<rect x="516.35" y="68.15" width="2.20" height="5.30" fill="#7c7c7c" stroke="#c8c8c8" stroke-width="0.9"/>
<rect x="520.45" y="68.15" width="2.40" height="5.30" fill="#7c7c7c" stroke="#c8c8c8" stroke-width="0.9"/>
<rect x="524.45" y="68.15" width="3.00" height="5.30" fill="#7c7c7c" stroke="#c8c8c8" stroke-width="0.9"/>
<rect x="543.60" y="71.40" width="9.20" height="6.90" fill="none" stroke="#c8c8c8" stroke-width="1.1"/>
<rect x="545.10" y="72.90" width="6.20" height="3.90" fill="none" stroke="#777" stroke-width="0.8"/>
<rect x="555.50" y="69.60" width="9.50" height="11.70" fill="none" stroke="#c8c8c8" stroke-width="1.1"/>
<rect x="557.00" y="71.10" width="6.50" height="8.70" fill="none" stroke="#777" stroke-width="0.8"/>
<rect x="543.60" y="81.60" width="9.20" height="6.90" fill="none" stroke="#c8c8c8" stroke-width="1.1"/>
<rect x="545.10" y="83.10" width="6.20" height="3.90" fill="none" stroke="#777" stroke-width="0.8"/>
<rect x="502.40" y="77.50" width="18.00" height="17.00" fill="none" stroke="#c8c8c8" stroke-width="1.2"/>
<rect x="504.60" y="79.70" width="13.60" height="12.60" fill="none" stroke="#8a8a8a" stroke-width="1.2"/>
<text x="511.40" y="86.20" font-size="6.5" fill="#999" text-anchor="middle" dominant-baseline="central">PU5</text>
<rect x="496.95" y="85.45" width="2.70" height="8.00" fill="#7c7c7c" stroke="#c8c8c8" stroke-width="0.9"/>
<rect x="522.45" y="83.55" width="2.40" height="5.60" fill="#7c7c7c" stroke="#c8c8c8" stroke-width="0.9"/>
<rect x="528.35" y="81.35" width="2.30" height="9.10" fill="#7c7c7c" stroke="#c8c8c8" stroke-width="0.9"/>
<rect x="535.75" y="81.35" width="2.80" height="9.10" fill="#7c7c7c" stroke="#c8c8c8" stroke-width="0.9"/>
<rect x="563.55" y="84.45" width="5.00" height="2.10" fill="#7c7c7c" stroke="#c8c8c8" stroke-width="0.9"/>
<rect x="564.45" y="88.35" width="5.00" height="2.40" fill="#7c7c7c" stroke="#c8c8c8" stroke-width="0.9"/>
<rect x="564.45" y="92.65" width="5.00" height="2.40" fill="#7c7c7c" stroke="#c8c8c8" stroke-width="0.9"/>
<rect x="528.60" y="97.00" width="10.10" height="9.30" fill="none" stroke="#c8c8c8" stroke-width="1.1"/>
<rect x="530.10" y="98.50" width="7.10" height="6.30" fill="none" stroke="#777" stroke-width="0.8"/>
<rect x="550.55" y="98.55" width="8.90" height="2.70" fill="#7c7c7c" stroke="#c8c8c8" stroke-width="0.9"/>
<rect x="566.45" y="100.45" width="2.10" height="7.90" fill="#7c7c7c" stroke="#c8c8c8" stroke-width="0.9"/>
<rect x="570.45" y="101.85" width="3.10" height="5.60" fill="#7c7c7c" stroke="#c8c8c8" stroke-width="0.9"/>
<rect x="500.45" y="102.45" width="5.00" height="2.40" fill="#7c7c7c" stroke="#c8c8c8" stroke-width="0.9"/>
<rect x="507.65" y="102.75" width="2.80" height="5.30" fill="#7c7c7c" stroke="#c8c8c8" stroke-width="0.9"/>
<rect x="512.35" y="100.45" width="2.40" height="7.90" fill="#7c7c7c" stroke="#c8c8c8" stroke-width="0.9"/>
<rect x="516.95" y="100.45" width="2.60" height="7.90" fill="#7c7c7c" stroke="#c8c8c8" stroke-width="0.9"/>
<rect x="504.45" y="106.35" width="2.10" height="5.30" fill="#7c7c7c" stroke="#c8c8c8" stroke-width="0.9"/>
<rect x="492.15" y="117.05" width="5.20" height="2.40" fill="#7c7c7c" stroke="#c8c8c8" stroke-width="0.9"/>
<rect x="501.15" y="115.25" width="5.40" height="2.60" fill="#7c7c7c" stroke="#c8c8c8" stroke-width="0.9"/>
<rect x="495.45" y="123.35" width="2.60" height="5.40" fill="#7c7c7c" stroke="#c8c8c8" stroke-width="0.9"/>
<rect x="500.25" y="123.35" width="2.40" height="5.40" fill="#7c7c7c" stroke="#c8c8c8" stroke-width="0.9"/>
<rect x="495.45" y="131.15" width="2.60" height="5.40" fill="#7c7c7c" stroke="#c8c8c8" stroke-width="0.9"/>
<rect x="500.25" y="131.15" width="2.40" height="5.40" fill="#7c7c7c" stroke="#c8c8c8" stroke-width="0.9"/>
<rect x="504.45" y="131.15" width="3.00" height="5.40" fill="#7c7c7c" stroke="#c8c8c8" stroke-width="0.9"/>
<rect x="565.55" y="124.65" width="5.00" height="2.40" fill="#7c7c7c" stroke="#c8c8c8" stroke-width="0.9"/>
<rect x="565.55" y="130.25" width="8.90" height="3.00" fill="#7c7c7c" stroke="#c8c8c8" stroke-width="0.9"/>
<rect x="440.55" y="344.45" width="5.20" height="2.10" fill="#7c7c7c" stroke="#c8c8c8" stroke-width="0.9"/>
<rect x="434.85" y="358.45" width="24.50" height="2.90" fill="#7c7c7c" stroke="#c8c8c8" stroke-width="0.9"/>
<rect x="372.25" y="361.75" width="5.40" height="5.90" fill="#7c7c7c" stroke="#c8c8c8" stroke-width="0.9"/>
<rect x="370.55" y="383.75" width="2.20" height="14.50" fill="#000" stroke="#c8c8c8" stroke-width="0.9"/>
<rect x="378.85" y="383.75" width="2.60" height="14.50" fill="#7c7c7c" stroke="#c8c8c8" stroke-width="0.9"/>
<rect x="387.65" y="383.75" width="2.40" height="14.50" fill="#000" stroke="#c8c8c8" stroke-width="0.9"/>
<rect x="396.80" y="377.70" width="15.60" height="21.40" fill="none" stroke="#c8c8c8" stroke-width="1.1"/>
<line x1="400.78" y1="378.20" x2="400.78" y2="379.80" stroke="#aaa" stroke-width="1.4"/>
<line x1="400.78" y1="397.00" x2="400.78" y2="398.60" stroke="#aaa" stroke-width="1.4"/>
<line x1="404.60" y1="378.20" x2="404.60" y2="379.80" stroke="#aaa" stroke-width="1.4"/>
<line x1="404.60" y1="397.00" x2="404.60" y2="398.60" stroke="#aaa" stroke-width="1.4"/>
<line x1="408.42" y1="378.20" x2="408.42" y2="379.80" stroke="#aaa" stroke-width="1.4"/>
<line x1="408.42" y1="397.00" x2="408.42" y2="398.60" stroke="#aaa" stroke-width="1.4"/>
<text x="404.60" y="388.40" font-size="5.6" fill="#a0a0a0" text-anchor="middle" dominant-baseline="central" transform="rotate(-90 404.60 388.40)">PQ60</text>
<rect x="418.70" y="377.70" width="15.20" height="21.40" fill="none" stroke="#c8c8c8" stroke-width="1.1"/>
<line x1="422.57" y1="378.20" x2="422.57" y2="379.80" stroke="#aaa" stroke-width="1.4"/>
<line x1="422.57" y1="397.00" x2="422.57" y2="398.60" stroke="#aaa" stroke-width="1.4"/>
<line x1="426.30" y1="378.20" x2="426.30" y2="379.80" stroke="#aaa" stroke-width="1.4"/>
<line x1="426.30" y1="397.00" x2="426.30" y2="398.60" stroke="#aaa" stroke-width="1.4"/>
<line x1="430.03" y1="378.20" x2="430.03" y2="379.80" stroke="#aaa" stroke-width="1.4"/>
<line x1="430.03" y1="397.00" x2="430.03" y2="398.60" stroke="#aaa" stroke-width="1.4"/>
<text x="426.30" y="388.40" font-size="5.6" fill="#a0a0a0" text-anchor="middle" dominant-baseline="central" transform="rotate(-90 426.30 388.40)">PQ59</text>
<rect x="471.55" y="358.45" width="2.90" height="7.70" fill="#7c7c7c" stroke="#c8c8c8" stroke-width="0.9"/>
<rect x="478.05" y="354.65" width="2.40" height="14.60" fill="#7c7c7c" stroke="#c8c8c8" stroke-width="0.9"/>
<rect x="487.30" y="348.70" width="15.20" height="21.50" fill="none" stroke="#c8c8c8" stroke-width="1.1"/>
<line x1="491.17" y1="349.20" x2="491.17" y2="350.80" stroke="#aaa" stroke-width="1.4"/>
<line x1="491.17" y1="368.10" x2="491.17" y2="369.70" stroke="#aaa" stroke-width="1.4"/>
<line x1="494.90" y1="349.20" x2="494.90" y2="350.80" stroke="#aaa" stroke-width="1.4"/>
<line x1="494.90" y1="368.10" x2="494.90" y2="369.70" stroke="#aaa" stroke-width="1.4"/>
<line x1="498.63" y1="349.20" x2="498.63" y2="350.80" stroke="#aaa" stroke-width="1.4"/>
<line x1="498.63" y1="368.10" x2="498.63" y2="369.70" stroke="#aaa" stroke-width="1.4"/>
<text x="494.90" y="359.45" font-size="5.6" fill="#a0a0a0" text-anchor="middle" dominant-baseline="central" transform="rotate(-90 494.90 359.45)">PQ58</text>
<rect x="485.45" y="307.85" width="25.40" height="2.70" fill="#7c7c7c" stroke="#c8c8c8" stroke-width="0.9"/>
<rect x="488.75" y="330.85" width="24.50" height="2.80" fill="#7c7c7c" stroke="#c8c8c8" stroke-width="0.9"/>
<rect x="519.45" y="346.35" width="2.10" height="24.40" fill="#000" stroke="#c8c8c8" stroke-width="0.9"/>
<rect x="541.65" y="344.45" width="2.90" height="25.10" fill="#7c7c7c" stroke="#c8c8c8" stroke-width="0.9"/>
<rect x="554.25" y="347.45" width="2.40" height="5.10" fill="#7c7c7c" stroke="#c8c8c8" stroke-width="0.9"/>
<rect x="513.80" y="378.50" width="15.10" height="21.20" fill="none" stroke="#c8c8c8" stroke-width="1.1"/>
<line x1="517.65" y1="379.00" x2="517.65" y2="380.60" stroke="#aaa" stroke-width="1.4"/>
<line x1="517.65" y1="397.60" x2="517.65" y2="399.20" stroke="#aaa" stroke-width="1.4"/>
<line x1="521.35" y1="379.00" x2="521.35" y2="380.60" stroke="#aaa" stroke-width="1.4"/>
<line x1="521.35" y1="397.60" x2="521.35" y2="399.20" stroke="#aaa" stroke-width="1.4"/>
<line x1="525.05" y1="379.00" x2="525.05" y2="380.60" stroke="#aaa" stroke-width="1.4"/>
<line x1="525.05" y1="397.60" x2="525.05" y2="399.20" stroke="#aaa" stroke-width="1.4"/>
<text x="521.35" y="389.10" font-size="5.6" fill="#a0a0a0" text-anchor="middle" dominant-baseline="central" transform="rotate(-90 521.35 389.10)">PQK1</text>
<rect x="497.55" y="388.55" width="2.40" height="7.90" fill="#7c7c7c" stroke="#c8c8c8" stroke-width="0.9"/>
<rect x="504.35" y="384.45" width="2.40" height="14.70" fill="#000" stroke="#c8c8c8" stroke-width="0.9"/>
<rect x="557.77" y="301.65" width="2.59" height="5.10" fill="#7c7c7c" stroke="#c8c8c8" stroke-width="0.9"/>
<rect x="561.70" y="301.65" width="2.59" height="5.10" fill="#7c7c7c" stroke="#c8c8c8" stroke-width="0.9"/>
<rect x="565.64" y="301.65" width="2.59" height="5.10" fill="#7c7c7c" stroke="#c8c8c8" stroke-width="0.9"/>
<rect x="569.95" y="290.45" width="5.10" height="2.40" fill="#7c7c7c" stroke="#c8c8c8" stroke-width="0.9"/>
<rect x="569.65" y="284.95" width="2.10" height="1.90" fill="#7c7c7c" stroke="#c8c8c8" stroke-width="0.9"/>
<rect x="475.75" y="442.95" width="2.30" height="4.60" fill="#7c7c7c" stroke="#c8c8c8" stroke-width="0.9"/>
<rect x="569.87" y="183.55" width="1.96" height="5.10" fill="#7c7c7c" stroke="#c8c8c8" stroke-width="0.9"/>
<rect x="573.17" y="183.55" width="1.96" height="5.10" fill="#7c7c7c" stroke="#c8c8c8" stroke-width="0.9"/>
<rect x="569.87" y="194.65" width="1.96" height="5.10" fill="#7c7c7c" stroke="#c8c8c8" stroke-width="0.9"/>
<rect x="573.17" y="194.65" width="1.96" height="5.10" fill="#7c7c7c" stroke="#c8c8c8" stroke-width="0.9"/>
<rect x="570.87" y="204.75" width="1.96" height="5.10" fill="#7c7c7c" stroke="#c8c8c8" stroke-width="0.9"/>
<rect x="574.17" y="204.75" width="1.96" height="5.10" fill="#7c7c7c" stroke="#c8c8c8" stroke-width="0.9"/>
<rect x="569.87" y="215.25" width="1.96" height="5.10" fill="#7c7c7c" stroke="#c8c8c8" stroke-width="0.9"/>
<rect x="573.17" y="215.25" width="1.96" height="5.10" fill="#7c7c7c" stroke="#c8c8c8" stroke-width="0.9"/>
<rect x="569.87" y="225.25" width="1.96" height="5.10" fill="#7c7c7c" stroke="#c8c8c8" stroke-width="0.9"/>
<rect x="573.17" y="225.25" width="1.96" height="5.10" fill="#7c7c7c" stroke="#c8c8c8" stroke-width="0.9"/>
<rect x="570.05" y="254.37" width="5.10" height="2.48" fill="#7c7c7c" stroke="#c8c8c8" stroke-width="0.9"/>
<rect x="570.05" y="258.19" width="5.10" height="2.48" fill="#7c7c7c" stroke="#c8c8c8" stroke-width="0.9"/>
<rect x="570.05" y="262.01" width="5.10" height="2.48" fill="#7c7c7c" stroke="#c8c8c8" stroke-width="0.9"/>
<rect x="570.05" y="265.83" width="5.10" height="2.48" fill="#7c7c7c" stroke="#c8c8c8" stroke-width="0.9"/>
<rect x="570.05" y="269.65" width="5.10" height="2.48" fill="#7c7c7c" stroke="#c8c8c8" stroke-width="0.9"/>
<rect x="570.05" y="281.35" width="1.70" height="5.10" fill="#7c7c7c" stroke="#c8c8c8" stroke-width="0.9"/>
<rect x="570.05" y="290.45" width="5.10" height="2.10" fill="#7c7c7c" stroke="#c8c8c8" stroke-width="0.9"/>
<rect x="587.35" y="260.55" width="8.90" height="3.10" fill="#555" stroke="#c8c8c8" stroke-width="0.9"/>
<rect x="587.35" y="268.25" width="8.90" height="3.10" fill="#555" stroke="#c8c8c8" stroke-width="0.9"/>
<rect x="587.35" y="275.85" width="8.90" height="3.10" fill="#555" stroke="#c8c8c8" stroke-width="0.9"/>
<rect x="585.75" y="283.75" width="8.90" height="3.10" fill="#555" stroke="#c8c8c8" stroke-width="0.9"/>
<rect x="585.75" y="291.45" width="8.90" height="3.10" fill="#555" stroke="#c8c8c8" stroke-width="0.9"/>
<rect x="585.75" y="299.05" width="8.90" height="3.10" fill="#555" stroke="#c8c8c8" stroke-width="0.9"/>
<rect x="607.00" y="289.50" width="10.40" height="8.40" fill="none" stroke="#c8c8c8" stroke-width="1.1"/>
<ellipse cx="612.2" cy="293.7" rx="4" ry="3" fill="none" stroke="#aaa" stroke-width="0.9"/>
<rect x="610.57" y="300.45" width="2.16" height="5.10" fill="#7c7c7c" stroke="#c8c8c8" stroke-width="0.9"/>
<rect x="614.07" y="300.45" width="2.16" height="5.10" fill="#7c7c7c" stroke="#c8c8c8" stroke-width="0.9"/>
<rect x="622.05" y="297.45" width="2.50" height="7.60" fill="#7c7c7c" stroke="#c8c8c8" stroke-width="0.9"/>
<rect x="626.87" y="300.45" width="2.11" height="5.10" fill="#7c7c7c" stroke="#c8c8c8" stroke-width="0.9"/>
<rect x="630.32" y="300.45" width="2.11" height="5.10" fill="#7c7c7c" stroke="#c8c8c8" stroke-width="0.9"/>
<rect x="619.65" y="309.55" width="5.50" height="2.50" fill="#7c7c7c" stroke="#c8c8c8" stroke-width="0.9"/>
<rect x="617.95" y="313.95" width="7.20" height="2.80" fill="#7c7c7c" stroke="#c8c8c8" stroke-width="0.9"/>
<rect x="627.05" y="311.55" width="2.50" height="6.20" fill="#7c7c7c" stroke="#c8c8c8" stroke-width="0.9"/>
<rect x="643.75" y="310.55" width="4.70" height="2.10" fill="#7c7c7c" stroke="#c8c8c8" stroke-width="0.9"/>
<rect x="643.55" y="314.55" width="7.50" height="2.70" fill="#7c7c7c" stroke="#c8c8c8" stroke-width="0.9"/>
<rect x="612.55" y="322.05" width="2.50" height="5.80" fill="#7c7c7c" stroke="#c8c8c8" stroke-width="0.9"/>
<rect x="603.85" y="326.75" width="2.60" height="3.80" fill="#7c7c7c" stroke="#c8c8c8" stroke-width="0.9"/>
<rect x="649.35" y="290.25" width="2.00" height="13.90" fill="#000" stroke="#c8c8c8" stroke-width="0.9"/>
<rect x="657.70" y="285.30" width="8.80" height="12.90" fill="none" stroke="#c8c8c8" stroke-width="1.1"/>
<rect x="659.20" y="286.80" width="5.80" height="9.90" fill="none" stroke="#777" stroke-width="0.8"/>
<rect x="657.70" y="299.20" width="8.80" height="13.10" fill="none" stroke="#c8c8c8" stroke-width="1.1"/>
<rect x="659.20" y="300.70" width="5.80" height="10.10" fill="none" stroke="#777" stroke-width="0.8"/>
<rect x="671.00" y="281.90" width="9.20" height="12.70" fill="none" stroke="#c8c8c8" stroke-width="1.1"/>
<rect x="672.50" y="283.40" width="6.20" height="9.70" fill="none" stroke="#777" stroke-width="0.8"/>
<rect x="671.00" y="296.20" width="9.20" height="12.70" fill="none" stroke="#c8c8c8" stroke-width="1.1"/>
<rect x="672.50" y="297.70" width="6.20" height="9.70" fill="none" stroke="#777" stroke-width="0.8"/>
<rect x="685.55" y="290.25" width="22.70" height="2.20" fill="#000" stroke="#c8c8c8" stroke-width="0.9"/>
<rect x="719.85" y="280.25" width="4.80" height="2.10" fill="#7c7c7c" stroke="#c8c8c8" stroke-width="0.9"/>
<rect x="716.65" y="287.45" width="13.70" height="2.10" fill="#000" stroke="#c8c8c8" stroke-width="0.9"/>
<rect x="630.45" y="300.75" width="2.40" height="4.30" fill="#7c7c7c" stroke="#c8c8c8" stroke-width="0.9"/>
<rect x="656.35" y="315.55" width="4.90" height="1.70" fill="#7c7c7c" stroke="#c8c8c8" stroke-width="0.9"/>
<rect x="663.45" y="315.55" width="5.00" height="1.70" fill="#7c7c7c" stroke="#c8c8c8" stroke-width="0.9"/>
<rect x="683.35" y="304.65" width="2.10" height="4.30" fill="#7c7c7c" stroke="#c8c8c8" stroke-width="0.9"/>
<rect x="689.45" y="305.75" width="3.80" height="2.10" fill="#7c7c7c" stroke="#c8c8c8" stroke-width="0.9"/>
<rect x="672.07" y="311.95" width="2.18" height="4.60" fill="#7c7c7c" stroke="#c8c8c8" stroke-width="0.9"/>
<rect x="675.60" y="311.95" width="2.19" height="4.60" fill="#7c7c7c" stroke="#c8c8c8" stroke-width="0.9"/>
<rect x="679.12" y="311.95" width="2.18" height="4.60" fill="#7c7c7c" stroke="#c8c8c8" stroke-width="0.9"/>
<rect x="682.65" y="311.95" width="2.18" height="4.60" fill="#7c7c7c" stroke="#c8c8c8" stroke-width="0.9"/>
<rect x="687.65" y="309.65" width="2.00" height="6.90" fill="#7c7c7c" stroke="#c8c8c8" stroke-width="0.9"/>
<rect x="691.55" y="311.55" width="2.00" height="5.00" fill="#7c7c7c" stroke="#c8c8c8" stroke-width="0.9"/>
<rect x="613.45" y="321.75" width="2.00" height="5.20" fill="#7c7c7c" stroke="#c8c8c8" stroke-width="0.9"/>
<rect x="603.75" y="326.65" width="2.70" height="7.70" fill="#7c7c7c" stroke="#c8c8c8" stroke-width="0.9"/>
<rect x="610.65" y="329.45" width="4.80" height="1.90" fill="#7c7c7c" stroke="#c8c8c8" stroke-width="0.9"/>
<rect x="610.65" y="333.25" width="4.80" height="1.90" fill="#7c7c7c" stroke="#c8c8c8" stroke-width="0.9"/>
<rect x="591.67" y="334.35" width="2.33" height="4.90" fill="#7c7c7c" stroke="#c8c8c8" stroke-width="0.9"/>
<rect x="595.34" y="334.35" width="2.33" height="4.90" fill="#7c7c7c" stroke="#c8c8c8" stroke-width="0.9"/>
<rect x="599.00" y="334.35" width="2.33" height="4.90" fill="#7c7c7c" stroke="#c8c8c8" stroke-width="0.9"/>
<rect x="603.75" y="336.35" width="2.70" height="7.00" fill="#7c7c7c" stroke="#c8c8c8" stroke-width="0.9"/>
<rect x="609.97" y="337.65" width="1.96" height="4.90" fill="#7c7c7c" stroke="#c8c8c8" stroke-width="0.9"/>
<rect x="613.27" y="337.65" width="1.96" height="4.90" fill="#7c7c7c" stroke="#c8c8c8" stroke-width="0.9"/>
<rect x="599.65" y="342.95" width="1.90" height="4.80" fill="#7c7c7c" stroke="#c8c8c8" stroke-width="0.9"/>
<rect x="610.65" y="344.75" width="4.80" height="1.80" fill="#7c7c7c" stroke="#c8c8c8" stroke-width="0.9"/>
<rect x="588.50" y="344.80" width="6.90" height="8.30" fill="none" stroke="#c8c8c8" stroke-width="1.1"/>
<rect x="590.00" y="346.00" width="4.00" height="4.50" fill="none" stroke="#888" stroke-width="0.8"/>
<rect x="605.65" y="345.85" width="1.90" height="5.20" fill="#7c7c7c" stroke="#c8c8c8" stroke-width="0.9"/>
<rect x="612.75" y="348.65" width="2.70" height="4.50" fill="#7c7c7c" stroke="#c8c8c8" stroke-width="0.9"/>
<rect x="579.17" y="350.45" width="2.36" height="4.70" fill="#7c7c7c" stroke="#c8c8c8" stroke-width="0.9"/>
<rect x="582.87" y="350.45" width="2.36" height="4.70" fill="#7c7c7c" stroke="#c8c8c8" stroke-width="0.9"/>
<rect x="588.85" y="356.55" width="4.80" height="2.00" fill="#7c7c7c" stroke="#c8c8c8" stroke-width="0.9"/>
<rect x="608.95" y="354.55" width="2.40" height="5.20" fill="#7c7c7c" stroke="#c8c8c8" stroke-width="0.9"/>
<rect x="613.05" y="355.65" width="2.40" height="4.90" fill="#7c7c7c" stroke="#c8c8c8" stroke-width="0.9"/>
<rect x="577.90" y="362.30" width="7.50" height="9.70" fill="none" stroke="#c8c8c8" stroke-width="1.1"/>
<rect x="579.40" y="363.80" width="4.50" height="5.70" fill="none" stroke="#888" stroke-width="0.8"/>
<rect x="603.75" y="361.45" width="2.70" height="7.30" fill="#7c7c7c" stroke="#c8c8c8" stroke-width="0.9"/>
<rect x="608.45" y="361.45" width="2.10" height="7.30" fill="#000" stroke="#c8c8c8" stroke-width="0.9"/>
<rect x="612.75" y="363.05" width="2.70" height="5.20" fill="#7c7c7c" stroke="#c8c8c8" stroke-width="0.9"/>
<rect x="604.77" y="371.55" width="2.59" height="4.90" fill="#7c7c7c" stroke="#c8c8c8" stroke-width="0.9"/>
<rect x="608.70" y="371.55" width="2.59" height="4.90" fill="#7c7c7c" stroke="#c8c8c8" stroke-width="0.9"/>
<rect x="612.64" y="371.55" width="2.59" height="4.90" fill="#7c7c7c" stroke="#c8c8c8" stroke-width="0.9"/>
<rect x="578.95" y="375.35" width="2.40" height="5.20" fill="#7c7c7c" stroke="#c8c8c8" stroke-width="0.9"/>
<rect x="603.75" y="379.75" width="2.70" height="7.30" fill="#7c7c7c" stroke="#c8c8c8" stroke-width="0.9"/>
<rect x="609.17" y="378.65" width="2.36" height="4.80" fill="#7c7c7c" stroke="#c8c8c8" stroke-width="0.9"/>
<rect x="612.87" y="378.65" width="2.36" height="4.80" fill="#7c7c7c" stroke="#c8c8c8" stroke-width="0.9"/>
<rect x="607.85" y="389.65" width="2.70" height="5.00" fill="#7c7c7c" stroke="#c8c8c8" stroke-width="0.9"/>
<rect x="604.57" y="408.95" width="2.36" height="5.20" fill="#7c7c7c" stroke="#c8c8c8" stroke-width="0.9"/>
<rect x="608.27" y="408.95" width="2.36" height="5.20" fill="#7c7c7c" stroke="#c8c8c8" stroke-width="0.9"/>
<rect x="602.27" y="416.85" width="2.71" height="7.60" fill="#7c7c7c" stroke="#c8c8c8" stroke-width="0.9"/>
<rect x="606.32" y="416.85" width="2.71" height="7.60" fill="#7c7c7c" stroke="#c8c8c8" stroke-width="0.9"/>
<rect x="602.45" y="429.95" width="5.10" height="2.40" fill="#7c7c7c" stroke="#c8c8c8" stroke-width="0.9"/>
<rect x="605.35" y="435.25" width="2.20" height="7.30" fill="#7c7c7c" stroke="#c8c8c8" stroke-width="0.9"/>
<rect x="609.97" y="435.65" width="1.96" height="4.70" fill="#7c7c7c" stroke="#c8c8c8" stroke-width="0.9"/>
<rect x="613.27" y="435.65" width="1.96" height="4.70" fill="#7c7c7c" stroke="#c8c8c8" stroke-width="0.9"/>
<rect x="610.25" y="442.55" width="2.30" height="5.70" fill="#7c7c7c" stroke="#c8c8c8" stroke-width="0.9"/>
<rect x="746.20" y="281.40" width="9.40" height="6.80" fill="none" stroke="#c8c8c8" stroke-width="1.1"/>
<rect x="748.00" y="283.00" width="5.50" height="3.50" fill="none" stroke="#888" stroke-width="0.8"/>
<rect x="758.55" y="282.15" width="2.50" height="5.20" fill="#7c7c7c" stroke="#c8c8c8" stroke-width="0.9"/>
<rect x="750.47" y="290.65" width="2.26" height="4.80" fill="#7c7c7c" stroke="#c8c8c8" stroke-width="0.9"/>
<rect x="754.07" y="290.65" width="2.26" height="4.80" fill="#7c7c7c" stroke="#c8c8c8" stroke-width="0.9"/>
<rect x="758.55" y="290.65" width="5.00" height="2.60" fill="#7c7c7c" stroke="#c8c8c8" stroke-width="0.9"/>
<rect x="766.55" y="284.35" width="1.90" height="5.90" fill="#7c7c7c" stroke="#c8c8c8" stroke-width="0.9"/>
<rect x="770.55" y="284.35" width="2.30" height="5.90" fill="#7c7c7c" stroke="#c8c8c8" stroke-width="0.9"/>
<rect x="774.15" y="288.75" width="2.40" height="5.30" fill="#7c7c7c" stroke="#c8c8c8" stroke-width="0.9"/>
<rect x="784.87" y="283.35" width="2.26" height="5.20" fill="#7c7c7c" stroke="#c8c8c8" stroke-width="0.9"/>
<rect x="788.47" y="283.35" width="2.26" height="5.20" fill="#7c7c7c" stroke="#c8c8c8" stroke-width="0.9"/>
<rect x="796.40" y="281.60" width="7.00" height="9.70" fill="none" stroke="#c8c8c8" stroke-width="1.1"/>
<rect x="798.00" y="283.20" width="3.80" height="5.30" fill="none" stroke="#888" stroke-width="0.8"/>
<rect x="786.95" y="294.35" width="5.50" height="2.40" fill="#7c7c7c" stroke="#c8c8c8" stroke-width="0.9"/>
<rect x="797.95" y="294.35" width="5.50" height="2.40" fill="#7c7c7c" stroke="#c8c8c8" stroke-width="0.9"/>
<rect x="792.45" y="307.05" width="4.90" height="2.40" fill="#777" stroke="#c8c8c8" stroke-width="0.9"/>
<rect x="792.45" y="311.09" width="4.90" height="2.40" fill="#777" stroke="#c8c8c8" stroke-width="0.9"/>
<rect x="792.45" y="315.13" width="4.90" height="2.40" fill="#777" stroke="#c8c8c8" stroke-width="0.9"/>
<rect x="792.45" y="319.17" width="4.90" height="2.40" fill="#777" stroke="#c8c8c8" stroke-width="0.9"/>
<rect x="792.45" y="323.21" width="4.90" height="2.40" fill="#777" stroke="#c8c8c8" stroke-width="0.9"/>
<rect x="792.45" y="327.25" width="4.90" height="2.40" fill="#777" stroke="#c8c8c8" stroke-width="0.9"/>
<rect x="792.45" y="331.29" width="4.90" height="2.40" fill="#777" stroke="#c8c8c8" stroke-width="0.9"/>
<rect x="792.45" y="335.33" width="4.90" height="2.40" fill="#777" stroke="#c8c8c8" stroke-width="0.9"/>
<rect x="792.45" y="339.37" width="4.90" height="2.40" fill="#777" stroke="#c8c8c8" stroke-width="0.9"/>
<rect x="792.45" y="343.41" width="4.90" height="2.40" fill="#777" stroke="#c8c8c8" stroke-width="0.9"/>
<rect x="792.45" y="347.45" width="4.90" height="2.40" fill="#777" stroke="#c8c8c8" stroke-width="0.9"/>
<rect x="792.45" y="351.49" width="4.90" height="2.40" fill="#777" stroke="#c8c8c8" stroke-width="0.9"/>
<rect x="792.45" y="355.53" width="4.90" height="2.40" fill="#777" stroke="#c8c8c8" stroke-width="0.9"/>
<rect x="792.45" y="359.57" width="4.90" height="2.40" fill="#777" stroke="#c8c8c8" stroke-width="0.9"/>
<rect x="792.45" y="363.61" width="4.90" height="2.40" fill="#777" stroke="#c8c8c8" stroke-width="0.9"/>
<rect x="792.45" y="367.65" width="4.90" height="2.40" fill="#777" stroke="#c8c8c8" stroke-width="0.9"/>
<rect x="792.45" y="371.69" width="4.90" height="2.40" fill="#777" stroke="#c8c8c8" stroke-width="0.9"/>
<rect x="792.45" y="375.73" width="4.90" height="2.40" fill="#777" stroke="#c8c8c8" stroke-width="0.9"/>
<rect x="792.45" y="379.77" width="4.90" height="2.40" fill="#777" stroke="#c8c8c8" stroke-width="0.9"/>
<rect x="792.45" y="383.81" width="4.90" height="2.40" fill="#777" stroke="#c8c8c8" stroke-width="0.9"/>
<rect x="792.45" y="387.85" width="4.90" height="2.40" fill="#777" stroke="#c8c8c8" stroke-width="0.9"/>
<rect x="792.45" y="391.89" width="4.90" height="2.40" fill="#777" stroke="#c8c8c8" stroke-width="0.9"/>
<rect x="792.45" y="395.93" width="4.90" height="2.40" fill="#777" stroke="#c8c8c8" stroke-width="0.9"/>
<rect x="792.45" y="399.97" width="4.90" height="2.40" fill="#777" stroke="#c8c8c8" stroke-width="0.9"/>
<rect x="792.45" y="404.01" width="4.90" height="2.40" fill="#777" stroke="#c8c8c8" stroke-width="0.9"/>
<rect x="792.45" y="408.05" width="4.90" height="2.40" fill="#777" stroke="#c8c8c8" stroke-width="0.9"/>
<rect x="792.45" y="412.09" width="4.90" height="2.40" fill="#777" stroke="#c8c8c8" stroke-width="0.9"/>
<rect x="792.45" y="416.13" width="4.90" height="2.40" fill="#777" stroke="#c8c8c8" stroke-width="0.9"/>
<rect x="792.45" y="420.17" width="4.90" height="2.40" fill="#777" stroke="#c8c8c8" stroke-width="0.9"/>
<rect x="792.45" y="424.21" width="4.90" height="2.40" fill="#777" stroke="#c8c8c8" stroke-width="0.9"/>
<rect x="792.45" y="428.25" width="4.90" height="2.40" fill="#777" stroke="#c8c8c8" stroke-width="0.9"/>
<rect x="792.45" y="432.29" width="4.90" height="2.40" fill="#777" stroke="#c8c8c8" stroke-width="0.9"/>
<rect x="792.45" y="436.33" width="4.90" height="2.40" fill="#777" stroke="#c8c8c8" stroke-width="0.9"/>
<rect x="818.85" y="280.77" width="4.80" height="2.11" fill="#7c7c7c" stroke="#c8c8c8" stroke-width="0.9"/>
<rect x="818.85" y="284.22" width="4.80" height="2.11" fill="#7c7c7c" stroke="#c8c8c8" stroke-width="0.9"/>
<rect x="813.60" y="289.70" width="9.40" height="6.70" fill="none" stroke="#c8c8c8" stroke-width="1.1"/>
<rect x="815.50" y="291.00" width="6.00" height="3.80" fill="none" stroke="#888" stroke-width="0.8"/>
<rect x="809.65" y="299.47" width="5.20" height="1.81" fill="#7c7c7c" stroke="#c8c8c8" stroke-width="0.9"/>
<rect x="809.65" y="302.62" width="5.20" height="1.81" fill="#7c7c7c" stroke="#c8c8c8" stroke-width="0.9"/>
<rect x="818.65" y="299.47" width="5.00" height="1.81" fill="#7c7c7c" stroke="#c8c8c8" stroke-width="0.9"/>
<rect x="818.65" y="302.62" width="5.00" height="1.81" fill="#7c7c7c" stroke="#c8c8c8" stroke-width="0.9"/>
<rect x="809.65" y="307.27" width="5.20" height="1.81" fill="#7c7c7c" stroke="#c8c8c8" stroke-width="0.9"/>
<rect x="809.65" y="310.42" width="5.20" height="1.81" fill="#7c7c7c" stroke="#c8c8c8" stroke-width="0.9"/>
<rect x="818.65" y="307.27" width="5.00" height="1.81" fill="#7c7c7c" stroke="#c8c8c8" stroke-width="0.9"/>
<rect x="818.65" y="310.42" width="5.00" height="1.81" fill="#7c7c7c" stroke="#c8c8c8" stroke-width="0.9"/>
<rect x="809.65" y="315.37" width="5.20" height="1.81" fill="#7c7c7c" stroke="#c8c8c8" stroke-width="0.9"/>
<rect x="809.65" y="318.52" width="5.20" height="1.81" fill="#7c7c7c" stroke="#c8c8c8" stroke-width="0.9"/>
<rect x="818.65" y="315.37" width="5.00" height="1.81" fill="#7c7c7c" stroke="#c8c8c8" stroke-width="0.9"/>
<rect x="818.65" y="318.52" width="5.00" height="1.81" fill="#7c7c7c" stroke="#c8c8c8" stroke-width="0.9"/>
<rect x="809.65" y="323.87" width="5.20" height="1.86" fill="#7c7c7c" stroke="#c8c8c8" stroke-width="0.9"/>
<rect x="809.65" y="327.07" width="5.20" height="1.86" fill="#7c7c7c" stroke="#c8c8c8" stroke-width="0.9"/>
<rect x="818.65" y="323.87" width="5.00" height="1.86" fill="#7c7c7c" stroke="#c8c8c8" stroke-width="0.9"/>
<rect x="818.65" y="327.07" width="5.00" height="1.86" fill="#7c7c7c" stroke="#c8c8c8" stroke-width="0.9"/>
<rect x="800.65" y="333.05" width="4.70" height="2.00" fill="#7c7c7c" stroke="#c8c8c8" stroke-width="0.9"/>
<rect x="800.40" y="338.50" width="9.70" height="9.50" fill="none" stroke="#c8c8c8" stroke-width="1.1"/>
<rect x="802.00" y="340.50" width="6.50" height="5.50" fill="none" stroke="#888" stroke-width="0.8"/>
<rect x="812.55" y="336.65" width="2.00" height="4.70" fill="#7c7c7c" stroke="#c8c8c8" stroke-width="0.9"/>
<rect x="819.45" y="337.25" width="4.80" height="1.90" fill="#7c7c7c" stroke="#c8c8c8" stroke-width="0.9"/>
<rect x="816.95" y="341.25" width="5.40" height="2.00" fill="#7c7c7c" stroke="#c8c8c8" stroke-width="0.9"/>
<rect x="817.70" y="346.50" width="9.70" height="9.70" fill="none" stroke="#c8c8c8" stroke-width="1.1"/>
<rect x="819.50" y="348.50" width="6.00" height="5.50" fill="none" stroke="#888" stroke-width="0.8"/>
<rect x="810.65" y="352.65" width="2.50" height="5.10" fill="#7c7c7c" stroke="#c8c8c8" stroke-width="0.9"/>
<rect x="803.75" y="356.15" width="4.80" height="2.20" fill="#7c7c7c" stroke="#c8c8c8" stroke-width="0.9"/>
<rect x="801.30" y="361.30" width="7.20" height="9.70" fill="none" stroke="#c8c8c8" stroke-width="1.1"/>
<rect x="802.80" y="363.00" width="4.20" height="5.50" fill="none" stroke="#888" stroke-width="0.8"/>
<rect x="806.25" y="389.57" width="5.00" height="1.96" fill="#7c7c7c" stroke="#c8c8c8" stroke-width="0.9"/>
<rect x="806.25" y="392.87" width="5.00" height="1.96" fill="#7c7c7c" stroke="#c8c8c8" stroke-width="0.9"/>
<rect x="804.80" y="398.20" width="6.20" height="4.30" fill="none" stroke="#c8c8c8" stroke-width="1.1"/>
<rect x="806.25" y="406.17" width="5.00" height="2.46" fill="#7c7c7c" stroke="#c8c8c8" stroke-width="0.9"/>
<rect x="806.25" y="409.97" width="5.00" height="2.46" fill="#7c7c7c" stroke="#c8c8c8" stroke-width="0.9"/>
<rect x="776.15" y="451.27" width="4.80" height="2.56" fill="#7c7c7c" stroke="#c8c8c8" stroke-width="0.9"/>
<rect x="776.15" y="455.17" width="4.80" height="2.56" fill="#7c7c7c" stroke="#c8c8c8" stroke-width="0.9"/>
<rect x="776.15" y="459.07" width="4.80" height="2.56" fill="#7c7c7c" stroke="#c8c8c8" stroke-width="0.9"/>
<rect x="776.15" y="462.97" width="4.80" height="2.56" fill="#7c7c7c" stroke="#c8c8c8" stroke-width="0.9"/>
<rect x="779.15" y="467.77" width="5.10" height="2.16" fill="#7c7c7c" stroke="#c8c8c8" stroke-width="0.9"/>
<rect x="779.15" y="471.27" width="5.10" height="2.16" fill="#7c7c7c" stroke="#c8c8c8" stroke-width="0.9"/>
<rect x="788.75" y="452.35" width="4.70" height="2.20" fill="#7c7c7c" stroke="#c8c8c8" stroke-width="0.9"/>
<rect x="788.75" y="456.55" width="4.70" height="2.80" fill="#7c7c7c" stroke="#c8c8c8" stroke-width="0.9"/>
<rect x="786.75" y="461.35" width="7.10" height="2.40" fill="#7c7c7c" stroke="#c8c8c8" stroke-width="0.9"/>
<rect x="797.70" y="446.70" width="13.60" height="13.60" fill="none" stroke="#c8c8c8" stroke-width="1.1"/>
<rect x="799.20" y="448.20" width="10.60" height="10.60" fill="none" stroke="#777" stroke-width="0.8"/>
<circle cx="804.50" cy="453.50" r="1.00" fill="#888" stroke="none" stroke-width="1"/>
<rect x="805.65" y="465.15" width="4.80" height="2.20" fill="#7c7c7c" stroke="#c8c8c8" stroke-width="0.9"/>
<rect x="798.70" y="469.90" width="10.90" height="9.00" fill="none" stroke="#c8c8c8" stroke-width="1.1"/>
<rect x="800.20" y="471.40" width="7.90" height="6.00" fill="none" stroke="#777" stroke-width="0.8"/>
<rect x="814.75" y="448.65" width="4.70" height="1.90" fill="#7c7c7c" stroke="#c8c8c8" stroke-width="0.9"/>
<rect x="819.55" y="519.55" width="5.10" height="2.00" fill="#7c7c7c" stroke="#c8c8c8" stroke-width="0.9"/>
<rect x="760.67" y="506.65" width="2.66" height="4.70" fill="#7c7c7c" stroke="#c8c8c8" stroke-width="0.9"/>
<rect x="764.67" y="506.65" width="2.66" height="4.70" fill="#7c7c7c" stroke="#c8c8c8" stroke-width="0.9"/>
<rect x="605.35" y="439.95" width="1.80" height="2.20" fill="#7c7c7c" stroke="#c8c8c8" stroke-width="0.9"/>
<rect x="610.25" y="442.85" width="2.20" height="5.30" fill="#7c7c7c" stroke="#c8c8c8" stroke-width="0.9"/>
<rect x="610.25" y="450.75" width="2.20" height="4.90" fill="#7c7c7c" stroke="#c8c8c8" stroke-width="0.9"/>
<rect x="607.65" y="457.95" width="5.00" height="2.10" fill="#7c7c7c" stroke="#c8c8c8" stroke-width="0.9"/>
<rect x="602.05" y="462.25" width="2.40" height="4.80" fill="#7c7c7c" stroke="#c8c8c8" stroke-width="0.9"/>
<rect x="607.27" y="462.65" width="2.11" height="4.70" fill="#7c7c7c" stroke="#c8c8c8" stroke-width="0.9"/>
<rect x="610.72" y="462.65" width="2.11" height="4.70" fill="#7c7c7c" stroke="#c8c8c8" stroke-width="0.9"/>
<rect x="613.55" y="471.15" width="4.80" height="2.10" fill="#7c7c7c" stroke="#c8c8c8" stroke-width="0.9"/>
<rect x="603.15" y="474.45" width="5.00" height="2.10" fill="#7c7c7c" stroke="#c8c8c8" stroke-width="0.9"/>
<rect x="602.80" y="479.80" width="6.70" height="9.30" fill="none" stroke="#c8c8c8" stroke-width="1.1"/>
<rect x="604.30" y="481.50" width="3.70" height="5.10" fill="none" stroke="#888" stroke-width="0.8"/>
<rect x="612.70" y="479.50" width="6.90" height="9.00" fill="none" stroke="#c8c8c8" stroke-width="1.1"/>
<rect x="614.20" y="481.20" width="3.90" height="4.80" fill="none" stroke="#888" stroke-width="0.8"/>
<rect x="606.50" y="493.00" width="6.90" height="9.00" fill="none" stroke="#c8c8c8" stroke-width="1.1"/>
<rect x="608.00" y="494.70" width="3.90" height="4.80" fill="none" stroke="#888" stroke-width="0.8"/>
<rect x="616.70" y="492.80" width="6.90" height="9.20" fill="none" stroke="#c8c8c8" stroke-width="1.1"/>
<rect x="618.20" y="494.50" width="3.90" height="5.00" fill="none" stroke="#888" stroke-width="0.8"/>
<rect x="601.45" y="494.05" width="2.40" height="5.00" fill="#7c7c7c" stroke="#c8c8c8" stroke-width="0.9"/>
<rect x="626.15" y="497.35" width="5.20" height="2.10" fill="#7c7c7c" stroke="#c8c8c8" stroke-width="0.9"/>
<rect x="603.35" y="507.05" width="7.10" height="2.40" fill="#7c7c7c" stroke="#c8c8c8" stroke-width="0.9"/>
<rect x="612.65" y="507.05" width="5.70" height="2.40" fill="#7c7c7c" stroke="#c8c8c8" stroke-width="0.9"/>
<rect x="621.25" y="507.55" width="2.40" height="5.20" fill="#7c7c7c" stroke="#c8c8c8" stroke-width="0.9"/>
<rect x="626.85" y="504.35" width="2.10" height="7.30" fill="#000" stroke="#c8c8c8" stroke-width="0.9"/>
<rect x="630.55" y="506.65" width="7.70" height="2.10" fill="#000" stroke="#c8c8c8" stroke-width="0.9"/>
<rect x="603.35" y="511.85" width="4.80" height="1.80" fill="#7c7c7c" stroke="#c8c8c8" stroke-width="0.9"/>
<rect x="603.35" y="515.45" width="4.80" height="1.80" fill="#7c7c7c" stroke="#c8c8c8" stroke-width="0.9"/>
<rect x="616.65" y="516.55" width="5.00" height="2.00" fill="#7c7c7c" stroke="#c8c8c8" stroke-width="0.9"/>
<rect x="626.85" y="514.85" width="5.40" height="2.80" fill="#7c7c7c" stroke="#c8c8c8" stroke-width="0.9"/>
<rect x="634.75" y="510.95" width="2.40" height="7.30" fill="#7c7c7c" stroke="#c8c8c8" stroke-width="0.9"/>
<rect x="602.75" y="520.45" width="2.40" height="9.10" fill="#7c7c7c" stroke="#c8c8c8" stroke-width="0.9"/>
<rect x="619.65" y="520.45" width="2.40" height="5.10" fill="#7c7c7c" stroke="#c8c8c8" stroke-width="0.9"/>
<rect x="618.65" y="528.45" width="5.30" height="2.10" fill="#7c7c7c" stroke="#c8c8c8" stroke-width="0.9"/>
<rect x="628.55" y="520.45" width="2.40" height="8.80" fill="#7c7c7c" stroke="#c8c8c8" stroke-width="0.9"/>
<rect x="635.55" y="520.75" width="2.40" height="7.70" fill="#000" stroke="#c8c8c8" stroke-width="0.9"/>
<rect x="640.45" y="507.55" width="1.70" height="4.80" fill="#7c7c7c" stroke="#c8c8c8" stroke-width="0.9"/>
<rect x="644.45" y="507.55" width="2.80" height="4.80" fill="#7c7c7c" stroke="#c8c8c8" stroke-width="0.9"/>
<rect x="656.55" y="507.55" width="2.20" height="4.80" fill="#7c7c7c" stroke="#c8c8c8" stroke-width="0.9"/>
<rect x="660.55" y="507.55" width="2.10" height="4.80" fill="#7c7c7c" stroke="#c8c8c8" stroke-width="0.9"/>
<rect x="664.55" y="507.55" width="2.10" height="4.80" fill="#7c7c7c" stroke="#c8c8c8" stroke-width="0.9"/>
<rect x="668.65" y="507.55" width="2.00" height="4.80" fill="#7c7c7c" stroke="#c8c8c8" stroke-width="0.9"/>
<rect x="672.55" y="507.55" width="2.00" height="4.80" fill="#7c7c7c" stroke="#c8c8c8" stroke-width="0.9"/>
<rect x="676.55" y="507.55" width="2.00" height="4.80" fill="#7c7c7c" stroke="#c8c8c8" stroke-width="0.9"/>
<rect x="680.15" y="507.55" width="1.70" height="4.80" fill="#7c7c7c" stroke="#c8c8c8" stroke-width="0.9"/>
<rect x="683.05" y="507.55" width="2.10" height="4.80" fill="#7c7c7c" stroke="#c8c8c8" stroke-width="0.9"/>
<rect x="693.65" y="507.55" width="2.10" height="4.80" fill="#7c7c7c" stroke="#c8c8c8" stroke-width="0.9"/>
<rect x="697.55" y="507.55" width="2.20" height="4.80" fill="#7c7c7c" stroke="#c8c8c8" stroke-width="0.9"/>
<rect x="649.05" y="507.95" width="5.70" height="2.40" fill="#7c7c7c" stroke="#c8c8c8" stroke-width="0.9"/>
<rect x="686.75" y="505.67" width="5.00" height="1.83" fill="#7c7c7c" stroke="#c8c8c8" stroke-width="0.9"/>
<rect x="686.75" y="508.84" width="5.00" height="1.83" fill="#7c7c7c" stroke="#c8c8c8" stroke-width="0.9"/>
<rect x="686.75" y="512.00" width="5.00" height="1.83" fill="#7c7c7c" stroke="#c8c8c8" stroke-width="0.9"/>
<rect x="710.35" y="506.65" width="2.40" height="5.00" fill="#7c7c7c" stroke="#c8c8c8" stroke-width="0.9"/>
<rect x="714.35" y="506.65" width="2.40" height="5.00" fill="#7c7c7c" stroke="#c8c8c8" stroke-width="0.9"/>
<rect x="718.55" y="506.65" width="2.20" height="5.00" fill="#7c7c7c" stroke="#c8c8c8" stroke-width="0.9"/>
<rect x="722.05" y="506.65" width="2.00" height="5.00" fill="#7c7c7c" stroke="#c8c8c8" stroke-width="0.9"/>
<rect x="725.55" y="506.65" width="2.20" height="5.00" fill="#7c7c7c" stroke="#c8c8c8" stroke-width="0.9"/>
<rect x="729.25" y="506.65" width="2.10" height="5.00" fill="#7c7c7c" stroke="#c8c8c8" stroke-width="0.9"/>
<rect x="732.65" y="506.65" width="2.00" height="5.00" fill="#7c7c7c" stroke="#c8c8c8" stroke-width="0.9"/>
<rect x="736.85" y="506.65" width="2.40" height="5.00" fill="#7c7c7c" stroke="#c8c8c8" stroke-width="0.9"/>
<rect x="740.85" y="506.65" width="2.10" height="5.00" fill="#7c7c7c" stroke="#c8c8c8" stroke-width="0.9"/>
<rect x="744.75" y="506.65" width="2.20" height="5.00" fill="#7c7c7c" stroke="#c8c8c8" stroke-width="0.9"/>
<rect x="748.45" y="506.65" width="2.30" height="5.00" fill="#7c7c7c" stroke="#c8c8c8" stroke-width="0.9"/>
<rect x="752.35" y="506.65" width="2.10" height="5.00" fill="#7c7c7c" stroke="#c8c8c8" stroke-width="0.9"/>
<rect x="756.05" y="506.65" width="2.40" height="5.00" fill="#7c7c7c" stroke="#c8c8c8" stroke-width="0.9"/>
<rect x="759.95" y="506.65" width="2.40" height="5.00" fill="#7c7c7c" stroke="#c8c8c8" stroke-width="0.9"/>
<rect x="763.95" y="506.65" width="2.40" height="5.00" fill="#7c7c7c" stroke="#c8c8c8" stroke-width="0.9"/>
<rect x="639.75" y="517.55" width="2.20" height="4.70" fill="#7c7c7c" stroke="#c8c8c8" stroke-width="0.9"/>
<rect x="643.35" y="517.55" width="2.80" height="4.70" fill="#7c7c7c" stroke="#c8c8c8" stroke-width="0.9"/>
<rect x="647.45" y="517.55" width="2.70" height="4.70" fill="#7c7c7c" stroke="#c8c8c8" stroke-width="0.9"/>
<rect x="652.35" y="517.55" width="2.40" height="4.70" fill="#7c7c7c" stroke="#c8c8c8" stroke-width="0.9"/>
<rect x="656.35" y="517.55" width="2.40" height="4.70" fill="#7c7c7c" stroke="#c8c8c8" stroke-width="0.9"/>
<rect x="660.25" y="517.55" width="2.40" height="4.70" fill="#7c7c7c" stroke="#c8c8c8" stroke-width="0.9"/>
<rect x="664.55" y="517.55" width="2.10" height="4.70" fill="#7c7c7c" stroke="#c8c8c8" stroke-width="0.9"/>
<rect x="668.45" y="517.55" width="2.20" height="4.70" fill="#7c7c7c" stroke="#c8c8c8" stroke-width="0.9"/>
<rect x="672.45" y="517.55" width="2.10" height="4.70" fill="#7c7c7c" stroke="#c8c8c8" stroke-width="0.9"/>
<rect x="676.45" y="517.55" width="2.10" height="4.70" fill="#7c7c7c" stroke="#c8c8c8" stroke-width="0.9"/>
<rect x="680.35" y="517.55" width="2.20" height="4.70" fill="#7c7c7c" stroke="#c8c8c8" stroke-width="0.9"/>
<rect x="684.35" y="517.55" width="2.20" height="4.70" fill="#7c7c7c" stroke="#c8c8c8" stroke-width="0.9"/>
<rect x="691.75" y="517.55" width="2.00" height="4.70" fill="#7c7c7c" stroke="#c8c8c8" stroke-width="0.9"/>
<rect x="695.35" y="517.55" width="2.40" height="4.70" fill="#7c7c7c" stroke="#c8c8c8" stroke-width="0.9"/>
<rect x="699.55" y="517.55" width="2.40" height="4.70" fill="#7c7c7c" stroke="#c8c8c8" stroke-width="0.9"/>
<rect x="639.75" y="525.15" width="2.20" height="4.60" fill="#7c7c7c" stroke="#c8c8c8" stroke-width="0.9"/>
<rect x="643.35" y="525.15" width="2.80" height="4.60" fill="#7c7c7c" stroke="#c8c8c8" stroke-width="0.9"/>
<rect x="649.65" y="525.15" width="2.50" height="4.60" fill="#7c7c7c" stroke="#c8c8c8" stroke-width="0.9"/>
<rect x="655.65" y="525.15" width="2.10" height="4.60" fill="#7c7c7c" stroke="#c8c8c8" stroke-width="0.9"/>
<rect x="659.35" y="525.15" width="2.40" height="4.60" fill="#7c7c7c" stroke="#c8c8c8" stroke-width="0.9"/>
<rect x="664.55" y="525.15" width="2.50" height="4.60" fill="#7c7c7c" stroke="#c8c8c8" stroke-width="0.9"/>
<rect x="672.55" y="525.15" width="2.40" height="4.60" fill="#7c7c7c" stroke="#c8c8c8" stroke-width="0.9"/>
<rect x="676.45" y="525.15" width="2.10" height="4.60" fill="#7c7c7c" stroke="#c8c8c8" stroke-width="0.9"/>
<rect x="680.35" y="525.15" width="2.20" height="4.60" fill="#7c7c7c" stroke="#c8c8c8" stroke-width="0.9"/>
<rect x="684.35" y="525.15" width="2.20" height="4.60" fill="#7c7c7c" stroke="#c8c8c8" stroke-width="0.9"/>
<rect x="688.05" y="525.15" width="2.40" height="4.60" fill="#7c7c7c" stroke="#c8c8c8" stroke-width="0.9"/>
<rect x="692.05" y="525.15" width="1.70" height="4.60" fill="#7c7c7c" stroke="#c8c8c8" stroke-width="0.9"/>
<rect x="695.65" y="525.15" width="2.10" height="4.60" fill="#7c7c7c" stroke="#c8c8c8" stroke-width="0.9"/>
<rect x="699.55" y="525.15" width="1.90" height="4.60" fill="#7c7c7c" stroke="#c8c8c8" stroke-width="0.9"/>
<rect x="704.75" y="517.85" width="4.80" height="2.00" fill="#888" stroke="#c8c8c8" stroke-width="0.9"/>
<rect x="712.15" y="517.85" width="4.80" height="2.00" fill="#888" stroke="#c8c8c8" stroke-width="0.9"/>
<rect x="704.75" y="521.67" width="4.80" height="2.00" fill="#888" stroke="#c8c8c8" stroke-width="0.9"/>
<rect x="712.15" y="521.67" width="4.80" height="2.00" fill="#888" stroke="#c8c8c8" stroke-width="0.9"/>
<rect x="704.75" y="525.49" width="4.80" height="2.00" fill="#888" stroke="#c8c8c8" stroke-width="0.9"/>
<rect x="712.15" y="525.49" width="4.80" height="2.00" fill="#888" stroke="#c8c8c8" stroke-width="0.9"/>
<rect x="704.75" y="529.31" width="4.80" height="2.00" fill="#888" stroke="#c8c8c8" stroke-width="0.9"/>
<rect x="712.15" y="529.31" width="4.80" height="2.00" fill="#888" stroke="#c8c8c8" stroke-width="0.9"/>
<rect x="704.75" y="533.13" width="4.80" height="2.00" fill="#888" stroke="#c8c8c8" stroke-width="0.9"/>
<rect x="712.15" y="533.13" width="4.80" height="2.00" fill="#888" stroke="#c8c8c8" stroke-width="0.9"/>
<rect x="704.75" y="536.95" width="4.80" height="2.00" fill="#888" stroke="#c8c8c8" stroke-width="0.9"/>
<rect x="712.15" y="536.95" width="4.80" height="2.00" fill="#888" stroke="#c8c8c8" stroke-width="0.9"/>
<rect x="704.75" y="540.77" width="4.80" height="2.00" fill="#888" stroke="#c8c8c8" stroke-width="0.9"/>
<rect x="712.15" y="540.77" width="4.80" height="2.00" fill="#888" stroke="#c8c8c8" stroke-width="0.9"/>
<rect x="704.75" y="544.59" width="4.80" height="2.00" fill="#888" stroke="#c8c8c8" stroke-width="0.9"/>
<rect x="712.15" y="544.59" width="4.80" height="2.00" fill="#888" stroke="#c8c8c8" stroke-width="0.9"/>
<rect x="704.75" y="548.41" width="4.80" height="2.00" fill="#888" stroke="#c8c8c8" stroke-width="0.9"/>
<rect x="712.15" y="548.41" width="4.80" height="2.00" fill="#888" stroke="#c8c8c8" stroke-width="0.9"/>
<rect x="704.75" y="552.23" width="4.80" height="2.00" fill="#888" stroke="#c8c8c8" stroke-width="0.9"/>
<rect x="712.15" y="552.23" width="4.80" height="2.00" fill="#888" stroke="#c8c8c8" stroke-width="0.9"/>
<rect x="719.85" y="517.85" width="4.80" height="2.00" fill="#888" stroke="#c8c8c8" stroke-width="0.9"/>
<rect x="719.85" y="521.67" width="4.80" height="2.00" fill="#888" stroke="#c8c8c8" stroke-width="0.9"/>
<rect x="719.85" y="525.49" width="4.80" height="2.00" fill="#888" stroke="#c8c8c8" stroke-width="0.9"/>
<rect x="719.85" y="529.31" width="4.80" height="2.00" fill="#888" stroke="#c8c8c8" stroke-width="0.9"/>
<rect x="719.85" y="533.13" width="4.80" height="2.00" fill="#888" stroke="#c8c8c8" stroke-width="0.9"/>
<rect x="719.85" y="536.95" width="4.80" height="2.00" fill="#888" stroke="#c8c8c8" stroke-width="0.9"/>
<rect x="719.85" y="540.77" width="4.80" height="2.00" fill="#888" stroke="#c8c8c8" stroke-width="0.9"/>
<rect x="719.85" y="544.59" width="4.80" height="2.00" fill="#888" stroke="#c8c8c8" stroke-width="0.9"/>
<rect x="719.85" y="548.41" width="4.80" height="2.00" fill="#888" stroke="#c8c8c8" stroke-width="0.9"/>
<rect x="719.85" y="552.23" width="4.80" height="2.00" fill="#888" stroke="#c8c8c8" stroke-width="0.9"/>
<rect x="719.85" y="556.05" width="4.80" height="2.00" fill="#888" stroke="#c8c8c8" stroke-width="0.9"/>
<rect x="705.10" y="556.30" width="8.00" height="10.80" fill="none" stroke="#c8c8c8" stroke-width="1.1"/>
<rect x="707.00" y="558.00" width="4.20" height="7.40" fill="none" stroke="#999" stroke-width="0.8"/>
<rect x="717.27" y="559.85" width="2.03" height="4.50" fill="#7c7c7c" stroke="#c8c8c8" stroke-width="0.9"/>
<rect x="720.64" y="559.85" width="2.03" height="4.50" fill="#7c7c7c" stroke="#c8c8c8" stroke-width="0.9"/>
<rect x="724.00" y="559.85" width="2.03" height="4.50" fill="#7c7c7c" stroke="#c8c8c8" stroke-width="0.9"/>
<rect x="719.85" y="566.85" width="4.80" height="1.60" fill="#888" stroke="#c8c8c8" stroke-width="0.9"/>
<rect x="719.85" y="570.15" width="4.80" height="1.60" fill="#888" stroke="#c8c8c8" stroke-width="0.9"/>
<rect x="719.85" y="574.25" width="4.80" height="1.90" fill="#888" stroke="#c8c8c8" stroke-width="0.9"/>
<rect x="719.85" y="577.85" width="4.80" height="1.70" fill="#888" stroke="#c8c8c8" stroke-width="0.9"/>
<rect x="719.85" y="581.25" width="4.80" height="1.90" fill="#888" stroke="#c8c8c8" stroke-width="0.9"/>
<rect x="704.17" y="574.55" width="2.11" height="5.00" fill="#7c7c7c" stroke="#c8c8c8" stroke-width="0.9"/>
<rect x="707.62" y="574.55" width="2.11" height="5.00" fill="#7c7c7c" stroke="#c8c8c8" stroke-width="0.9"/>
<rect x="712.45" y="572.65" width="3.20" height="9.20" fill="#7c7c7c" stroke="#c8c8c8" stroke-width="0.9"/>
<rect x="704.75" y="581.65" width="4.80" height="2.30" fill="#7c7c7c" stroke="#c8c8c8" stroke-width="0.9"/>
<rect x="705.05" y="587.35" width="1.90" height="4.80" fill="#7c7c7c" stroke="#c8c8c8" stroke-width="0.9"/>
<rect x="709.45" y="587.35" width="1.80" height="4.80" fill="#000" stroke="#c8c8c8" stroke-width="0.9"/>
<rect x="714.55" y="586.85" width="1.90" height="4.50" fill="#000" stroke="#c8c8c8" stroke-width="0.9"/>
<rect x="719.45" y="586.85" width="1.90" height="4.50" fill="#000" stroke="#c8c8c8" stroke-width="0.9"/>
<rect x="704.75" y="594.75" width="5.20" height="2.30" fill="#7c7c7c" stroke="#c8c8c8" stroke-width="0.9"/>
<rect x="712.45" y="594.47" width="4.80" height="1.76" fill="#7c7c7c" stroke="#c8c8c8" stroke-width="0.9"/>
<rect x="712.45" y="597.57" width="4.80" height="1.76" fill="#7c7c7c" stroke="#c8c8c8" stroke-width="0.9"/>
<rect x="720.25" y="593.55" width="5.20" height="2.40" fill="#7c7c7c" stroke="#c8c8c8" stroke-width="0.9"/>
<rect x="708.85" y="602.45" width="2.40" height="4.40" fill="#7c7c7c" stroke="#c8c8c8" stroke-width="0.9"/>
<rect x="716.77" y="602.05" width="1.93" height="4.40" fill="#7c7c7c" stroke="#c8c8c8" stroke-width="0.9"/>
<rect x="720.04" y="602.05" width="1.93" height="4.40" fill="#7c7c7c" stroke="#c8c8c8" stroke-width="0.9"/>
<rect x="723.30" y="602.05" width="1.93" height="4.40" fill="#7c7c7c" stroke="#c8c8c8" stroke-width="0.9"/>
<rect x="704.75" y="610.47" width="4.80" height="1.51" fill="#7c7c7c" stroke="#c8c8c8" stroke-width="0.9"/>
<rect x="704.75" y="613.32" width="4.80" height="1.51" fill="#7c7c7c" stroke="#c8c8c8" stroke-width="0.9"/>
<rect x="712.45" y="611.55" width="2.00" height="4.70" fill="#7c7c7c" stroke="#c8c8c8" stroke-width="0.9"/>
<rect x="716.77" y="609.45" width="2.19" height="4.80" fill="#7c7c7c" stroke="#c8c8c8" stroke-width="0.9"/>
<rect x="720.30" y="609.45" width="2.19" height="4.80" fill="#7c7c7c" stroke="#c8c8c8" stroke-width="0.9"/>
<rect x="723.84" y="609.45" width="2.19" height="4.80" fill="#7c7c7c" stroke="#c8c8c8" stroke-width="0.9"/>
<rect x="716.77" y="617.65" width="1.93" height="4.50" fill="#7c7c7c" stroke="#c8c8c8" stroke-width="0.9"/>
<rect x="720.04" y="617.65" width="1.93" height="4.50" fill="#7c7c7c" stroke="#c8c8c8" stroke-width="0.9"/>
<rect x="723.30" y="617.65" width="1.93" height="4.50" fill="#7c7c7c" stroke="#c8c8c8" stroke-width="0.9"/>
<rect x="704.75" y="622.55" width="4.80" height="1.50" fill="#7c7c7c" stroke="#c8c8c8" stroke-width="0.9"/>
<rect x="704.75" y="626.95" width="4.80" height="1.70" fill="#7c7c7c" stroke="#c8c8c8" stroke-width="0.9"/>
<rect x="712.45" y="626.25" width="2.00" height="4.70" fill="#7c7c7c" stroke="#c8c8c8" stroke-width="0.9"/>
<rect x="720.25" y="624.65" width="5.20" height="2.40" fill="#7c7c7c" stroke="#c8c8c8" stroke-width="0.9"/>
<rect x="705.55" y="631.55" width="4.70" height="1.50" fill="#7c7c7c" stroke="#c8c8c8" stroke-width="0.9"/>
<rect x="705.55" y="635.65" width="4.70" height="1.80" fill="#7c7c7c" stroke="#c8c8c8" stroke-width="0.9"/>
<rect x="730.67" y="515.65" width="2.11" height="5.00" fill="#7c7c7c" stroke="#c8c8c8" stroke-width="0.9"/>
<rect x="734.12" y="515.65" width="2.11" height="5.00" fill="#7c7c7c" stroke="#c8c8c8" stroke-width="0.9"/>
<rect x="739.80" y="514.60" width="8.50" height="6.70" fill="none" stroke="#c8c8c8" stroke-width="1.1"/>
<rect x="741.50" y="516.00" width="5.00" height="3.80" fill="#555" stroke="#999" stroke-width="0.8"/>
<rect x="751.35" y="515.65" width="2.40" height="5.00" fill="#000" stroke="#c8c8c8" stroke-width="0.9"/>
<rect x="643.95" y="642.45" width="5.40" height="2.30" fill="#7c7c7c" stroke="#c8c8c8" stroke-width="0.9"/>
<rect x="651.15" y="642.45" width="5.20" height="2.30" fill="#7c7c7c" stroke="#c8c8c8" stroke-width="0.9"/>
<rect x="658.35" y="642.45" width="5.20" height="2.30" fill="#7c7c7c" stroke="#c8c8c8" stroke-width="0.9"/>
<rect x="665.45" y="642.45" width="5.40" height="2.30" fill="#7c7c7c" stroke="#c8c8c8" stroke-width="0.9"/>
<rect x="652.45" y="650.65" width="17.00" height="2.90" fill="#000" stroke="#c8c8c8" stroke-width="0.9"/>
<rect x="673.57" y="644.65" width="2.06" height="4.70" fill="#7c7c7c" stroke="#c8c8c8" stroke-width="0.9"/>
<rect x="676.97" y="644.65" width="2.06" height="4.70" fill="#7c7c7c" stroke="#c8c8c8" stroke-width="0.9"/>
<rect x="680.37" y="644.65" width="2.06" height="4.70" fill="#7c7c7c" stroke="#c8c8c8" stroke-width="0.9"/>
<rect x="673.57" y="651.55" width="2.06" height="5.00" fill="#7c7c7c" stroke="#c8c8c8" stroke-width="0.9"/>
<rect x="676.97" y="651.55" width="2.06" height="5.00" fill="#7c7c7c" stroke="#c8c8c8" stroke-width="0.9"/>
<rect x="680.37" y="651.55" width="2.06" height="5.00" fill="#7c7c7c" stroke="#c8c8c8" stroke-width="0.9"/>
<rect x="694.67" y="644.65" width="2.49" height="4.70" fill="#7c7c7c" stroke="#c8c8c8" stroke-width="0.9"/>
<rect x="698.50" y="644.65" width="2.49" height="4.70" fill="#7c7c7c" stroke="#c8c8c8" stroke-width="0.9"/>
<rect x="702.34" y="644.65" width="2.49" height="4.70" fill="#7c7c7c" stroke="#c8c8c8" stroke-width="0.9"/>
<rect x="689.87" y="652.25" width="2.26" height="4.70" fill="#7c7c7c" stroke="#c8c8c8" stroke-width="0.9"/>
<rect x="693.47" y="652.25" width="2.26" height="4.70" fill="#7c7c7c" stroke="#c8c8c8" stroke-width="0.9"/>
<rect x="698.57" y="652.25" width="2.46" height="4.70" fill="#7c7c7c" stroke="#c8c8c8" stroke-width="0.9"/>
<rect x="702.37" y="652.25" width="2.46" height="4.70" fill="#7c7c7c" stroke="#c8c8c8" stroke-width="0.9"/>
<rect x="710.55" y="651.95" width="2.70" height="5.00" fill="#7c7c7c" stroke="#c8c8c8" stroke-width="0.9"/>
<rect x="712.97" y="659.45" width="2.31" height="4.70" fill="#7c7c7c" stroke="#c8c8c8" stroke-width="0.9"/>
<rect x="716.62" y="659.45" width="2.31" height="4.70" fill="#7c7c7c" stroke="#c8c8c8" stroke-width="0.9"/>
<rect x="726.67" y="658.75" width="2.11" height="4.70" fill="#7c7c7c" stroke="#c8c8c8" stroke-width="0.9"/>
<rect x="730.12" y="658.75" width="2.11" height="4.70" fill="#7c7c7c" stroke="#c8c8c8" stroke-width="0.9"/>
<rect x="737.65" y="650.77" width="5.00" height="2.11" fill="#7c7c7c" stroke="#c8c8c8" stroke-width="0.9"/>
<rect x="737.65" y="654.22" width="5.00" height="2.11" fill="#7c7c7c" stroke="#c8c8c8" stroke-width="0.9"/>
<rect x="698.75" y="663.35" width="5.30" height="2.30" fill="#7c7c7c" stroke="#c8c8c8" stroke-width="0.9"/>
<rect x="696.55" y="669.15" width="7.90" height="2.40" fill="#000" stroke="#c8c8c8" stroke-width="0.9"/>
<rect x="697.45" y="675.95" width="8.90" height="2.50" fill="#7c7c7c" stroke="#c8c8c8" stroke-width="0.9"/>
<rect x="696.55" y="682.25" width="7.90" height="2.40" fill="#000" stroke="#c8c8c8" stroke-width="0.9"/>
<rect x="712.45" y="626.45" width="2.00" height="4.60" fill="#7c7c7c" stroke="#c8c8c8" stroke-width="0.9"/>
<circle cx="646.50" cy="513.50" r="0.90" fill="#215a50" stroke="none" stroke-width="1"/>
<circle cx="700.00" cy="508.00" r="0.90" fill="#215a50" stroke="none" stroke-width="1"/>
<circle cx="702.00" cy="513.00" r="0.90" fill="#215a50" stroke="none" stroke-width="1"/>
<circle cx="700.50" cy="520.00" r="0.90" fill="#215a50" stroke="none" stroke-width="1"/>
<circle cx="706.00" cy="514.50" r="0.90" fill="#215a50" stroke="none" stroke-width="1"/>
<circle cx="703.00" cy="595.00" r="0.90" fill="#215a50" stroke="none" stroke-width="1"/>
<circle cx="706.00" cy="607.00" r="0.90" fill="#215a50" stroke="none" stroke-width="1"/>
<circle cx="711.00" cy="608.50" r="0.90" fill="#215a50" stroke="none" stroke-width="1"/>
<circle cx="704.00" cy="617.00" r="0.90" fill="#215a50" stroke="none" stroke-width="1"/>
<circle cx="708.00" cy="619.00" r="0.90" fill="#215a50" stroke="none" stroke-width="1"/>
<circle cx="711.50" cy="622.00" r="0.90" fill="#215a50" stroke="none" stroke-width="1"/>
<circle cx="716.00" cy="626.00" r="0.90" fill="#215a50" stroke="none" stroke-width="1"/>
<circle cx="691.50" cy="646.00" r="0.90" fill="#215a50" stroke="none" stroke-width="1"/>
<circle cx="706.50" cy="655.50" r="0.90" fill="#215a50" stroke="none" stroke-width="1"/>
<circle cx="722.50" cy="659.50" r="0.90" fill="#215a50" stroke="none" stroke-width="1"/>
<circle cx="712.00" cy="511.50" r="0.90" fill="#215a50" stroke="none" stroke-width="1"/>
<rect x="219.95" y="664.45" width="5.50" height="2.10" fill="#7c7c7c" stroke="#c8c8c8" stroke-width="0.9"/>
<rect x="221.60" y="669.60" width="9.60" height="9.40" fill="none" stroke="#c8c8c8" stroke-width="1.1"/>
<circle cx="229.30" cy="674.30" r="0.80" fill="#888" stroke="none" stroke-width="1"/>
<rect x="234.75" y="672.55" width="2.60" height="7.50" fill="#7c7c7c" stroke="#c8c8c8" stroke-width="0.9"/>
<rect x="243.55" y="676.95" width="23.40" height="2.50" fill="#000" stroke="#c8c8c8" stroke-width="0.9"/>
<rect x="215.75" y="682.05" width="5.50" height="2.20" fill="#7c7c7c" stroke="#c8c8c8" stroke-width="0.9"/>
<rect x="247.15" y="697.95" width="25.40" height="2.70" fill="#7c7c7c" stroke="#c8c8c8" stroke-width="0.9"/>
<rect x="232.35" y="703.35" width="5.00" height="2.10" fill="#7c7c7c" stroke="#c8c8c8" stroke-width="0.9"/>
<rect x="229.77" y="370.95" width="2.56" height="4.20" fill="#7c7c7c" stroke="#c8c8c8" stroke-width="0.9"/>
<rect x="233.67" y="370.95" width="2.56" height="4.20" fill="#7c7c7c" stroke="#c8c8c8" stroke-width="0.9"/>
<rect x="208.25" y="383.55" width="13.50" height="2.70" fill="#7c7c7c" stroke="#c8c8c8" stroke-width="0.9"/>
<rect x="208.25" y="394.85" width="13.50" height="2.60" fill="#7c7c7c" stroke="#c8c8c8" stroke-width="0.9"/>
<rect x="229.55" y="387.65" width="23.90" height="2.80" fill="#7c7c7c" stroke="#c8c8c8" stroke-width="0.9"/>
<rect x="335.15" y="387.05" width="23.10" height="3.10" fill="#7c7c7c" stroke="#c8c8c8" stroke-width="0.9"/>
<rect x="348.45" y="617.45" width="2.90" height="5.20" fill="#7c7c7c" stroke="#c8c8c8" stroke-width="0.9"/>
<rect x="404.35" y="664.85" width="9.30" height="2.90" fill="#7c7c7c" stroke="#c8c8c8" stroke-width="0.9"/>
<rect x="415.35" y="671.35" width="3.30" height="5.10" fill="#7c7c7c" stroke="#c8c8c8" stroke-width="0.9"/>
<rect x="397.55" y="674.35" width="2.90" height="23.30" fill="#7c7c7c" stroke="#c8c8c8" stroke-width="0.9"/>
<rect x="259.95" y="93.45" width="4.60" height="2.30" fill="#7c7c7c" stroke="#c8c8c8" stroke-width="0.9"/>
</svg>
</body></html>
